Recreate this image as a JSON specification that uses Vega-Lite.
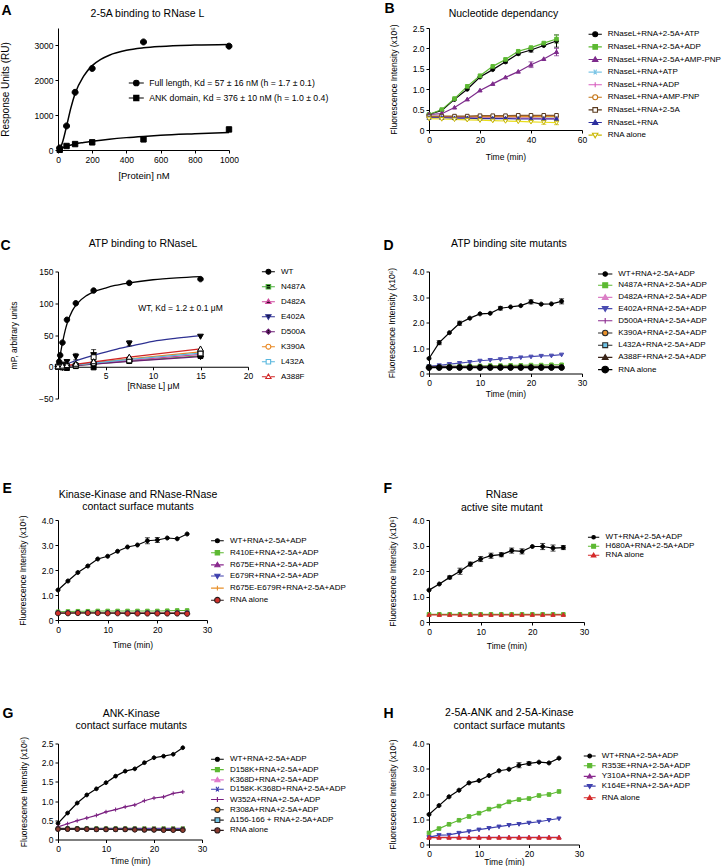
{
"$schema":"https://vega.github.io/schema/vega-lite/v6.json",
"background":"white",
"padding":{"left":0,"top":1,"right":0,"bottom":0},
"config":{
 "font":"Liberation Sans",
 "view":{"stroke":null},
 "axis":{"grid":false,"domainColor":"#000","domainWidth":1,"tickColor":"#000","tickWidth":1,"tickSize":3,"labelColor":"#000","labelFontSize":8.5,"labelPadding":2,"labelFlush":false,"labelOverlap":false,"titleColor":"#000","titleFontSize":8.5,"titleFontWeight":"normal","labelFont":"Liberation Sans","titleFont":"Liberation Sans"},
 "legend":{"labelFontSize":8,"labelColor":"#000","labelFont":"Liberation Sans","symbolOpacity":1,"labelOffset":7.5,"symbolStrokeWidth":1.1,"labelLimit":400}
},
"columns":2,
"bounds":"flush",
"align":"each",
"spacing":{"row":121.5,"column":181},
"datasets":{
"A_pts":[
{"s":"Full length, Kd = 57 ± 16 nM (h = 1.7 ± 0.1)","x":10,"y":60},
{"s":"Full length, Kd = 57 ± 16 nM (h = 1.7 ± 0.1)","x":50,"y":690},
{"s":"Full length, Kd = 57 ± 16 nM (h = 1.7 ± 0.1)","x":100,"y":1655},
{"s":"Full length, Kd = 57 ± 16 nM (h = 1.7 ± 0.1)","x":200,"y":2340},
{"s":"Full length, Kd = 57 ± 16 nM (h = 1.7 ± 0.1)","x":500,"y":3100},
{"s":"Full length, Kd = 57 ± 16 nM (h = 1.7 ± 0.1)","x":1000,"y":2980},
{"s":"ANK domain, Kd = 376 ± 10 nM (h = 1.0 ± 0.4)","x":10,"y":5},
{"s":"ANK domain, Kd = 376 ± 10 nM (h = 1.0 ± 0.4)","x":50,"y":115},
{"s":"ANK domain, Kd = 376 ± 10 nM (h = 1.0 ± 0.4)","x":100,"y":170},
{"s":"ANK domain, Kd = 376 ± 10 nM (h = 1.0 ± 0.4)","x":200,"y":220},
{"s":"ANK domain, Kd = 376 ± 10 nM (h = 1.0 ± 0.4)","x":500,"y":305},
{"s":"ANK domain, Kd = 376 ± 10 nM (h = 1.0 ± 0.4)","x":1000,"y":590}
],
"A_fit":[
{"s":"Full length, Kd = 57 ± 16 nM (h = 1.7 ± 0.1)","x":0,"y":0},
{"s":"Full length, Kd = 57 ± 16 nM (h = 1.7 ± 0.1)","x":10,"y":30},
{"s":"Full length, Kd = 57 ± 16 nM (h = 1.7 ± 0.1)","x":25,"y":200},
{"s":"Full length, Kd = 57 ± 16 nM (h = 1.7 ± 0.1)","x":50,"y":680},
{"s":"Full length, Kd = 57 ± 16 nM (h = 1.7 ± 0.1)","x":75,"y":1200},
{"s":"Full length, Kd = 57 ± 16 nM (h = 1.7 ± 0.1)","x":100,"y":1620},
{"s":"Full length, Kd = 57 ± 16 nM (h = 1.7 ± 0.1)","x":150,"y":2120},
{"s":"Full length, Kd = 57 ± 16 nM (h = 1.7 ± 0.1)","x":200,"y":2420},
{"s":"Full length, Kd = 57 ± 16 nM (h = 1.7 ± 0.1)","x":250,"y":2600},
{"s":"Full length, Kd = 57 ± 16 nM (h = 1.7 ± 0.1)","x":300,"y":2720},
{"s":"Full length, Kd = 57 ± 16 nM (h = 1.7 ± 0.1)","x":400,"y":2860},
{"s":"Full length, Kd = 57 ± 16 nM (h = 1.7 ± 0.1)","x":500,"y":2930},
{"s":"Full length, Kd = 57 ± 16 nM (h = 1.7 ± 0.1)","x":600,"y":2970},
{"s":"Full length, Kd = 57 ± 16 nM (h = 1.7 ± 0.1)","x":800,"y":3010},
{"s":"Full length, Kd = 57 ± 16 nM (h = 1.7 ± 0.1)","x":1000,"y":3030},
{"s":"ANK domain, Kd = 376 ± 10 nM (h = 1.0 ± 0.4)","x":0,"y":0},
{"s":"ANK domain, Kd = 376 ± 10 nM (h = 1.0 ± 0.4)","x":25,"y":60},
{"s":"ANK domain, Kd = 376 ± 10 nM (h = 1.0 ± 0.4)","x":50,"y":110},
{"s":"ANK domain, Kd = 376 ± 10 nM (h = 1.0 ± 0.4)","x":100,"y":175},
{"s":"ANK domain, Kd = 376 ± 10 nM (h = 1.0 ± 0.4)","x":150,"y":215},
{"s":"ANK domain, Kd = 376 ± 10 nM (h = 1.0 ± 0.4)","x":200,"y":250},
{"s":"ANK domain, Kd = 376 ± 10 nM (h = 1.0 ± 0.4)","x":300,"y":310},
{"s":"ANK domain, Kd = 376 ± 10 nM (h = 1.0 ± 0.4)","x":400,"y":355},
{"s":"ANK domain, Kd = 376 ± 10 nM (h = 1.0 ± 0.4)","x":500,"y":390},
{"s":"ANK domain, Kd = 376 ± 10 nM (h = 1.0 ± 0.4)","x":600,"y":420},
{"s":"ANK domain, Kd = 376 ± 10 nM (h = 1.0 ± 0.4)","x":800,"y":465},
{"s":"ANK domain, Kd = 376 ± 10 nM (h = 1.0 ± 0.4)","x":1000,"y":505}
],
"B":[
{"s":"RNaseL+RNA+2-5A+ATP","x":0,"y":0.38},{"s":"RNaseL+RNA+2-5A+ATP","x":5,"y":0.48},{"s":"RNaseL+RNA+2-5A+ATP","x":10,"y":0.75},{"s":"RNaseL+RNA+2-5A+ATP","x":15,"y":1.0},{"s":"RNaseL+RNA+2-5A+ATP","x":20,"y":1.3},{"s":"RNaseL+RNA+2-5A+ATP","x":25,"y":1.48},{"s":"RNaseL+RNA+2-5A+ATP","x":30,"y":1.67,"e":0.03},{"s":"RNaseL+RNA+2-5A+ATP","x":35,"y":1.87,"e":0.03},{"s":"RNaseL+RNA+2-5A+ATP","x":40,"y":1.96,"e":0.05},{"s":"RNaseL+RNA+2-5A+ATP","x":45,"y":2.07},{"s":"RNaseL+RNA+2-5A+ATP","x":50,"y":2.18,"e":0.15},
{"s":"RNaseL+RNA+2-5A+ADP","x":0,"y":0.38},{"s":"RNaseL+RNA+2-5A+ADP","x":5,"y":0.5},{"s":"RNaseL+RNA+2-5A+ADP","x":10,"y":0.77},{"s":"RNaseL+RNA+2-5A+ADP","x":15,"y":1.07},{"s":"RNaseL+RNA+2-5A+ADP","x":20,"y":1.33},{"s":"RNaseL+RNA+2-5A+ADP","x":25,"y":1.56},{"s":"RNaseL+RNA+2-5A+ADP","x":30,"y":1.73},{"s":"RNaseL+RNA+2-5A+ADP","x":35,"y":1.93},{"s":"RNaseL+RNA+2-5A+ADP","x":40,"y":2.02},{"s":"RNaseL+RNA+2-5A+ADP","x":45,"y":2.13},{"s":"RNaseL+RNA+2-5A+ADP","x":50,"y":2.23,"e":0.1},
{"s":"RNaseL+RNA+2-5A+AMP-PNP","x":0,"y":0.38},{"s":"RNaseL+RNA+2-5A+AMP-PNP","x":5,"y":0.4},{"s":"RNaseL+RNA+2-5A+AMP-PNP","x":10,"y":0.55},{"s":"RNaseL+RNA+2-5A+AMP-PNP","x":15,"y":0.75},{"s":"RNaseL+RNA+2-5A+AMP-PNP","x":20,"y":0.97},{"s":"RNaseL+RNA+2-5A+AMP-PNP","x":25,"y":1.13},{"s":"RNaseL+RNA+2-5A+AMP-PNP","x":30,"y":1.29},{"s":"RNaseL+RNA+2-5A+AMP-PNP","x":35,"y":1.43},{"s":"RNaseL+RNA+2-5A+AMP-PNP","x":40,"y":1.6,"e":0.07},{"s":"RNaseL+RNA+2-5A+AMP-PNP","x":45,"y":1.74},{"s":"RNaseL+RNA+2-5A+AMP-PNP","x":50,"y":1.91,"e":0.09},
{"s":"RNaseL+RNA+ATP","x":0,"y":0.31},{"s":"RNaseL+RNA+ATP","x":5,"y":0.31},{"s":"RNaseL+RNA+ATP","x":10,"y":0.3},{"s":"RNaseL+RNA+ATP","x":15,"y":0.3},{"s":"RNaseL+RNA+ATP","x":20,"y":0.3},{"s":"RNaseL+RNA+ATP","x":25,"y":0.3},{"s":"RNaseL+RNA+ATP","x":30,"y":0.3},{"s":"RNaseL+RNA+ATP","x":35,"y":0.29},{"s":"RNaseL+RNA+ATP","x":40,"y":0.29},{"s":"RNaseL+RNA+ATP","x":45,"y":0.29},{"s":"RNaseL+RNA+ATP","x":50,"y":0.29},
{"s":"RNaseL+RNA+ADP","x":0,"y":0.32},{"s":"RNaseL+RNA+ADP","x":5,"y":0.31},{"s":"RNaseL+RNA+ADP","x":10,"y":0.31},{"s":"RNaseL+RNA+ADP","x":15,"y":0.3},{"s":"RNaseL+RNA+ADP","x":20,"y":0.3},{"s":"RNaseL+RNA+ADP","x":25,"y":0.3},{"s":"RNaseL+RNA+ADP","x":30,"y":0.29},{"s":"RNaseL+RNA+ADP","x":35,"y":0.29},{"s":"RNaseL+RNA+ADP","x":40,"y":0.29},{"s":"RNaseL+RNA+ADP","x":45,"y":0.28},{"s":"RNaseL+RNA+ADP","x":50,"y":0.28},
{"s":"RNaseL+RNA+AMP-PNP","x":0,"y":0.33},{"s":"RNaseL+RNA+AMP-PNP","x":5,"y":0.33},{"s":"RNaseL+RNA+AMP-PNP","x":10,"y":0.33},{"s":"RNaseL+RNA+AMP-PNP","x":15,"y":0.33},{"s":"RNaseL+RNA+AMP-PNP","x":20,"y":0.33},{"s":"RNaseL+RNA+AMP-PNP","x":25,"y":0.33},{"s":"RNaseL+RNA+AMP-PNP","x":30,"y":0.33},{"s":"RNaseL+RNA+AMP-PNP","x":35,"y":0.33},{"s":"RNaseL+RNA+AMP-PNP","x":40,"y":0.33},{"s":"RNaseL+RNA+AMP-PNP","x":45,"y":0.33},{"s":"RNaseL+RNA+AMP-PNP","x":50,"y":0.33},
{"s":"RNaseL+RNA+2-5A","x":0,"y":0.34},{"s":"RNaseL+RNA+2-5A","x":5,"y":0.34},{"s":"RNaseL+RNA+2-5A","x":10,"y":0.34},{"s":"RNaseL+RNA+2-5A","x":15,"y":0.34},{"s":"RNaseL+RNA+2-5A","x":20,"y":0.35},{"s":"RNaseL+RNA+2-5A","x":25,"y":0.35},{"s":"RNaseL+RNA+2-5A","x":30,"y":0.35},{"s":"RNaseL+RNA+2-5A","x":35,"y":0.36},{"s":"RNaseL+RNA+2-5A","x":40,"y":0.36},{"s":"RNaseL+RNA+2-5A","x":45,"y":0.36},{"s":"RNaseL+RNA+2-5A","x":50,"y":0.36},
{"s":"RNaseL+RNA","x":0,"y":0.3},{"s":"RNaseL+RNA","x":5,"y":0.3},{"s":"RNaseL+RNA","x":10,"y":0.29},{"s":"RNaseL+RNA","x":15,"y":0.29},{"s":"RNaseL+RNA","x":20,"y":0.28},{"s":"RNaseL+RNA","x":25,"y":0.28},{"s":"RNaseL+RNA","x":30,"y":0.28},{"s":"RNaseL+RNA","x":35,"y":0.27},{"s":"RNaseL+RNA","x":40,"y":0.27},{"s":"RNaseL+RNA","x":45,"y":0.27},{"s":"RNaseL+RNA","x":50,"y":0.27},
{"s":"RNA alone","x":0,"y":0.28},{"s":"RNA alone","x":5,"y":0.27},{"s":"RNA alone","x":10,"y":0.26},{"s":"RNA alone","x":15,"y":0.25},{"s":"RNA alone","x":20,"y":0.24},{"s":"RNA alone","x":25,"y":0.23},{"s":"RNA alone","x":30,"y":0.22},{"s":"RNA alone","x":35,"y":0.21},{"s":"RNA alone","x":40,"y":0.2},{"s":"RNA alone","x":45,"y":0.19,"e":0.05},{"s":"RNA alone","x":50,"y":0.18,"e":0.05}
],
"C_pts":[
{"s":"WT","x":0,"y":0},{"s":"WT","x":0.12,"y":8},{"s":"WT","x":0.23,"y":18},{"s":"WT","x":0.47,"y":38},{"s":"WT","x":0.94,"y":74},{"s":"WT","x":1.875,"y":100},{"s":"WT","x":3.75,"y":120},{"s":"WT","x":7.5,"y":132},{"s":"WT","x":15,"y":138},
{"s":"N487A","x":0,"y":0},{"s":"N487A","x":0.47,"y":-1},{"s":"N487A","x":0.94,"y":-2},{"s":"N487A","x":1.875,"y":1},{"s":"N487A","x":3.75,"y":-1},{"s":"N487A","x":7.5,"y":9},{"s":"N487A","x":15,"y":17},
{"s":"D482A","x":0,"y":0},{"s":"D482A","x":0.47,"y":1},{"s":"D482A","x":0.94,"y":2},{"s":"D482A","x":1.875,"y":3},{"s":"D482A","x":3.75,"y":6},{"s":"D482A","x":7.5,"y":11},{"s":"D482A","x":15,"y":19},
{"s":"E402A","x":0,"y":0},{"s":"E402A","x":0.47,"y":4},{"s":"E402A","x":0.94,"y":8,"e":3},{"s":"E402A","x":1.875,"y":16,"e":5},{"s":"E402A","x":3.75,"y":19,"e":8},{"s":"E402A","x":7.5,"y":37,"e":4},{"s":"E402A","x":15,"y":48},
{"s":"D500A","x":0,"y":0},{"s":"D500A","x":0.47,"y":-1},{"s":"D500A","x":0.94,"y":0},{"s":"D500A","x":1.875,"y":2},{"s":"D500A","x":3.75,"y":4},{"s":"D500A","x":7.5,"y":9},{"s":"D500A","x":15,"y":16},
{"s":"K390A","x":0,"y":1},{"s":"K390A","x":0.47,"y":1},{"s":"K390A","x":0.94,"y":1},{"s":"K390A","x":1.875,"y":3},{"s":"K390A","x":3.75,"y":6},{"s":"K390A","x":7.5,"y":12},{"s":"K390A","x":15,"y":23},
{"s":"L432A","x":0,"y":0},{"s":"L432A","x":0.47,"y":0},{"s":"L432A","x":0.94,"y":1},{"s":"L432A","x":1.875,"y":2},{"s":"L432A","x":3.75,"y":15,"e":6},{"s":"L432A","x":7.5,"y":10},{"s":"L432A","x":15,"y":21},
{"s":"A388F","x":0,"y":0},{"s":"A388F","x":0.47,"y":1},{"s":"A388F","x":0.94,"y":2},{"s":"A388F","x":1.875,"y":4},{"s":"A388F","x":3.75,"y":8},{"s":"A388F","x":7.5,"y":15},{"s":"A388F","x":15,"y":28}
],
"C_fit":[
{"s":"WT","x":0,"y":0},{"s":"WT","x":0.25,"y":20},{"s":"WT","x":0.5,"y":40},{"s":"WT","x":0.75,"y":57},{"s":"WT","x":1,"y":70},{"s":"WT","x":1.5,"y":88},{"s":"WT","x":2,"y":99},{"s":"WT","x":3,"y":112},{"s":"WT","x":3.75,"y":118},{"s":"WT","x":5,"y":124},{"s":"WT","x":6,"y":128},{"s":"WT","x":7.5,"y":132},{"s":"WT","x":10,"y":137},{"s":"WT","x":12.5,"y":140},{"s":"WT","x":15,"y":142},
{"s":"E402A","x":0,"y":0},{"s":"E402A","x":1,"y":5},{"s":"E402A","x":2,"y":10},{"s":"E402A","x":4,"y":19},{"s":"E402A","x":6,"y":27},{"s":"E402A","x":7.5,"y":32},{"s":"E402A","x":10,"y":40},{"s":"E402A","x":12.5,"y":45},{"s":"E402A","x":15,"y":49},
{"s":"N487A","x":0,"y":0},{"s":"N487A","x":7.5,"y":9},{"s":"N487A","x":15,"y":17},
{"s":"D482A","x":0,"y":0},{"s":"D482A","x":7.5,"y":10},{"s":"D482A","x":15,"y":19.5},
{"s":"D500A","x":0,"y":0},{"s":"D500A","x":7.5,"y":8.5},{"s":"D500A","x":15,"y":16},
{"s":"K390A","x":0,"y":0},{"s":"K390A","x":7.5,"y":12.5},{"s":"K390A","x":15,"y":23.5},
{"s":"L432A","x":0,"y":0},{"s":"L432A","x":7.5,"y":11.5},{"s":"L432A","x":15,"y":21.5},
{"s":"A388F","x":0,"y":0},{"s":"A388F","x":7.5,"y":15},{"s":"A388F","x":15,"y":28}
],
"C_note":[{"x":12.9,"y":93,"t":"WT, Kd = 1.2 ± 0.1 μM"}],
"D":[
{"s":"WT+RNA+2-5A+ADP","x":0,"y":0.59},{"s":"WT+RNA+2-5A+ADP","x":2,"y":1.21,"e":0.08},{"s":"WT+RNA+2-5A+ADP","x":4,"y":1.6},{"s":"WT+RNA+2-5A+ADP","x":6,"y":1.97,"e":0.08},{"s":"WT+RNA+2-5A+ADP","x":8,"y":2.17},{"s":"WT+RNA+2-5A+ADP","x":10,"y":2.34},{"s":"WT+RNA+2-5A+ADP","x":12,"y":2.36},{"s":"WT+RNA+2-5A+ADP","x":14,"y":2.56,"e":0.07},{"s":"WT+RNA+2-5A+ADP","x":16,"y":2.61},{"s":"WT+RNA+2-5A+ADP","x":18,"y":2.66},{"s":"WT+RNA+2-5A+ADP","x":20,"y":2.81,"e":0.08},{"s":"WT+RNA+2-5A+ADP","x":22,"y":2.72},{"s":"WT+RNA+2-5A+ADP","x":24,"y":2.73},{"s":"WT+RNA+2-5A+ADP","x":26,"y":2.83,"e":0.1},
{"s":"N487A+RNA+2-5A+ADP","x":0,"y":0.28},{"s":"N487A+RNA+2-5A+ADP","x":2,"y":0.28},{"s":"N487A+RNA+2-5A+ADP","x":4,"y":0.29},{"s":"N487A+RNA+2-5A+ADP","x":6,"y":0.29},{"s":"N487A+RNA+2-5A+ADP","x":8,"y":0.3},{"s":"N487A+RNA+2-5A+ADP","x":10,"y":0.3},{"s":"N487A+RNA+2-5A+ADP","x":12,"y":0.31},{"s":"N487A+RNA+2-5A+ADP","x":14,"y":0.31},{"s":"N487A+RNA+2-5A+ADP","x":16,"y":0.32},{"s":"N487A+RNA+2-5A+ADP","x":18,"y":0.32},{"s":"N487A+RNA+2-5A+ADP","x":20,"y":0.33},{"s":"N487A+RNA+2-5A+ADP","x":22,"y":0.33},{"s":"N487A+RNA+2-5A+ADP","x":24,"y":0.34},{"s":"N487A+RNA+2-5A+ADP","x":26,"y":0.34},
{"s":"D482A+RNA+2-5A+ADP","x":0,"y":0.28},{"s":"D482A+RNA+2-5A+ADP","x":2,"y":0.28},{"s":"D482A+RNA+2-5A+ADP","x":4,"y":0.28},{"s":"D482A+RNA+2-5A+ADP","x":6,"y":0.28},{"s":"D482A+RNA+2-5A+ADP","x":8,"y":0.28},{"s":"D482A+RNA+2-5A+ADP","x":10,"y":0.28},{"s":"D482A+RNA+2-5A+ADP","x":12,"y":0.28},{"s":"D482A+RNA+2-5A+ADP","x":14,"y":0.28},{"s":"D482A+RNA+2-5A+ADP","x":16,"y":0.28},{"s":"D482A+RNA+2-5A+ADP","x":18,"y":0.28},{"s":"D482A+RNA+2-5A+ADP","x":20,"y":0.28},{"s":"D482A+RNA+2-5A+ADP","x":22,"y":0.28},{"s":"D482A+RNA+2-5A+ADP","x":24,"y":0.28},{"s":"D482A+RNA+2-5A+ADP","x":26,"y":0.28},
{"s":"E402A+RNA+2-5A+ADP","x":0,"y":0.28},{"s":"E402A+RNA+2-5A+ADP","x":2,"y":0.32},{"s":"E402A+RNA+2-5A+ADP","x":4,"y":0.37},{"s":"E402A+RNA+2-5A+ADP","x":6,"y":0.41},{"s":"E402A+RNA+2-5A+ADP","x":8,"y":0.45},{"s":"E402A+RNA+2-5A+ADP","x":10,"y":0.5},{"s":"E402A+RNA+2-5A+ADP","x":12,"y":0.53},{"s":"E402A+RNA+2-5A+ADP","x":14,"y":0.56},{"s":"E402A+RNA+2-5A+ADP","x":16,"y":0.6},{"s":"E402A+RNA+2-5A+ADP","x":18,"y":0.63},{"s":"E402A+RNA+2-5A+ADP","x":20,"y":0.66},{"s":"E402A+RNA+2-5A+ADP","x":22,"y":0.69},{"s":"E402A+RNA+2-5A+ADP","x":24,"y":0.7},{"s":"E402A+RNA+2-5A+ADP","x":26,"y":0.74},
{"s":"D500A+RNA+2-5A+ADP","x":0,"y":0.27},{"s":"D500A+RNA+2-5A+ADP","x":2,"y":0.27},{"s":"D500A+RNA+2-5A+ADP","x":4,"y":0.27},{"s":"D500A+RNA+2-5A+ADP","x":6,"y":0.27},{"s":"D500A+RNA+2-5A+ADP","x":8,"y":0.27},{"s":"D500A+RNA+2-5A+ADP","x":10,"y":0.27},{"s":"D500A+RNA+2-5A+ADP","x":12,"y":0.27},{"s":"D500A+RNA+2-5A+ADP","x":14,"y":0.27},{"s":"D500A+RNA+2-5A+ADP","x":16,"y":0.27},{"s":"D500A+RNA+2-5A+ADP","x":18,"y":0.27},{"s":"D500A+RNA+2-5A+ADP","x":20,"y":0.27},{"s":"D500A+RNA+2-5A+ADP","x":22,"y":0.27},{"s":"D500A+RNA+2-5A+ADP","x":24,"y":0.27},{"s":"D500A+RNA+2-5A+ADP","x":26,"y":0.27},
{"s":"K390A+RNA+2-5A+ADP","x":0,"y":0.26},{"s":"K390A+RNA+2-5A+ADP","x":2,"y":0.26},{"s":"K390A+RNA+2-5A+ADP","x":4,"y":0.26},{"s":"K390A+RNA+2-5A+ADP","x":6,"y":0.26},{"s":"K390A+RNA+2-5A+ADP","x":8,"y":0.26},{"s":"K390A+RNA+2-5A+ADP","x":10,"y":0.26},{"s":"K390A+RNA+2-5A+ADP","x":12,"y":0.26},{"s":"K390A+RNA+2-5A+ADP","x":14,"y":0.26},{"s":"K390A+RNA+2-5A+ADP","x":16,"y":0.26},{"s":"K390A+RNA+2-5A+ADP","x":18,"y":0.26},{"s":"K390A+RNA+2-5A+ADP","x":20,"y":0.26},{"s":"K390A+RNA+2-5A+ADP","x":22,"y":0.26},{"s":"K390A+RNA+2-5A+ADP","x":24,"y":0.26},{"s":"K390A+RNA+2-5A+ADP","x":26,"y":0.26},
{"s":"L432A+RNA+2-5A+ADP","x":0,"y":0.25},{"s":"L432A+RNA+2-5A+ADP","x":2,"y":0.25},{"s":"L432A+RNA+2-5A+ADP","x":4,"y":0.25},{"s":"L432A+RNA+2-5A+ADP","x":6,"y":0.25},{"s":"L432A+RNA+2-5A+ADP","x":8,"y":0.25},{"s":"L432A+RNA+2-5A+ADP","x":10,"y":0.25},{"s":"L432A+RNA+2-5A+ADP","x":12,"y":0.25},{"s":"L432A+RNA+2-5A+ADP","x":14,"y":0.25},{"s":"L432A+RNA+2-5A+ADP","x":16,"y":0.25},{"s":"L432A+RNA+2-5A+ADP","x":18,"y":0.25},{"s":"L432A+RNA+2-5A+ADP","x":20,"y":0.25},{"s":"L432A+RNA+2-5A+ADP","x":22,"y":0.25},{"s":"L432A+RNA+2-5A+ADP","x":24,"y":0.25},{"s":"L432A+RNA+2-5A+ADP","x":26,"y":0.25},
{"s":"A388F+RNA+2-5A+ADP","x":0,"y":0.24},{"s":"A388F+RNA+2-5A+ADP","x":2,"y":0.24},{"s":"A388F+RNA+2-5A+ADP","x":4,"y":0.24},{"s":"A388F+RNA+2-5A+ADP","x":6,"y":0.24},{"s":"A388F+RNA+2-5A+ADP","x":8,"y":0.24},{"s":"A388F+RNA+2-5A+ADP","x":10,"y":0.24},{"s":"A388F+RNA+2-5A+ADP","x":12,"y":0.24},{"s":"A388F+RNA+2-5A+ADP","x":14,"y":0.24},{"s":"A388F+RNA+2-5A+ADP","x":16,"y":0.24},{"s":"A388F+RNA+2-5A+ADP","x":18,"y":0.24},{"s":"A388F+RNA+2-5A+ADP","x":20,"y":0.24},{"s":"A388F+RNA+2-5A+ADP","x":22,"y":0.24},{"s":"A388F+RNA+2-5A+ADP","x":24,"y":0.24},{"s":"A388F+RNA+2-5A+ADP","x":26,"y":0.24},
{"s":"RNA alone","x":0,"y":0.23},{"s":"RNA alone","x":2,"y":0.23},{"s":"RNA alone","x":4,"y":0.23},{"s":"RNA alone","x":6,"y":0.23},{"s":"RNA alone","x":8,"y":0.23},{"s":"RNA alone","x":10,"y":0.23},{"s":"RNA alone","x":12,"y":0.23},{"s":"RNA alone","x":14,"y":0.23},{"s":"RNA alone","x":16,"y":0.23},{"s":"RNA alone","x":18,"y":0.23},{"s":"RNA alone","x":20,"y":0.23},{"s":"RNA alone","x":22,"y":0.23},{"s":"RNA alone","x":24,"y":0.23},{"s":"RNA alone","x":26,"y":0.23}
],
"E":[
{"s":"WT+RNA+2-5A+ADP","x":0,"y":1.2},{"s":"WT+RNA+2-5A+ADP","x":2,"y":1.56},{"s":"WT+RNA+2-5A+ADP","x":4,"y":1.9},{"s":"WT+RNA+2-5A+ADP","x":6,"y":2.16},{"s":"WT+RNA+2-5A+ADP","x":8,"y":2.44},{"s":"WT+RNA+2-5A+ADP","x":10,"y":2.55},{"s":"WT+RNA+2-5A+ADP","x":12,"y":2.75},{"s":"WT+RNA+2-5A+ADP","x":14,"y":2.92},{"s":"WT+RNA+2-5A+ADP","x":16,"y":3.0},{"s":"WT+RNA+2-5A+ADP","x":18,"y":3.17,"e":0.12},{"s":"WT+RNA+2-5A+ADP","x":20,"y":3.2,"e":0.1},{"s":"WT+RNA+2-5A+ADP","x":22,"y":3.28},{"s":"WT+RNA+2-5A+ADP","x":24,"y":3.25},{"s":"WT+RNA+2-5A+ADP","x":26,"y":3.44},
{"s":"R410E+RNA+2-5A+ADP","x":0,"y":0.33},{"s":"R410E+RNA+2-5A+ADP","x":2,"y":0.34},{"s":"R410E+RNA+2-5A+ADP","x":4,"y":0.35},{"s":"R410E+RNA+2-5A+ADP","x":6,"y":0.35},{"s":"R410E+RNA+2-5A+ADP","x":8,"y":0.36},{"s":"R410E+RNA+2-5A+ADP","x":10,"y":0.36},{"s":"R410E+RNA+2-5A+ADP","x":12,"y":0.36},{"s":"R410E+RNA+2-5A+ADP","x":14,"y":0.36},{"s":"R410E+RNA+2-5A+ADP","x":16,"y":0.36},{"s":"R410E+RNA+2-5A+ADP","x":18,"y":0.36},{"s":"R410E+RNA+2-5A+ADP","x":20,"y":0.36},{"s":"R410E+RNA+2-5A+ADP","x":22,"y":0.37},{"s":"R410E+RNA+2-5A+ADP","x":24,"y":0.38},{"s":"R410E+RNA+2-5A+ADP","x":26,"y":0.38},
{"s":"R675E+RNA+2-5A+ADP","x":0,"y":0.3},{"s":"R675E+RNA+2-5A+ADP","x":2,"y":0.3},{"s":"R675E+RNA+2-5A+ADP","x":4,"y":0.3},{"s":"R675E+RNA+2-5A+ADP","x":6,"y":0.3},{"s":"R675E+RNA+2-5A+ADP","x":8,"y":0.3},{"s":"R675E+RNA+2-5A+ADP","x":10,"y":0.3},{"s":"R675E+RNA+2-5A+ADP","x":12,"y":0.3},{"s":"R675E+RNA+2-5A+ADP","x":14,"y":0.3},{"s":"R675E+RNA+2-5A+ADP","x":16,"y":0.3},{"s":"R675E+RNA+2-5A+ADP","x":18,"y":0.3},{"s":"R675E+RNA+2-5A+ADP","x":20,"y":0.3},{"s":"R675E+RNA+2-5A+ADP","x":22,"y":0.3},{"s":"R675E+RNA+2-5A+ADP","x":24,"y":0.3},{"s":"R675E+RNA+2-5A+ADP","x":26,"y":0.3},
{"s":"E679R+RNA+2-5A+ADP","x":0,"y":0.29},{"s":"E679R+RNA+2-5A+ADP","x":2,"y":0.29},{"s":"E679R+RNA+2-5A+ADP","x":4,"y":0.29},{"s":"E679R+RNA+2-5A+ADP","x":6,"y":0.29},{"s":"E679R+RNA+2-5A+ADP","x":8,"y":0.29},{"s":"E679R+RNA+2-5A+ADP","x":10,"y":0.29},{"s":"E679R+RNA+2-5A+ADP","x":12,"y":0.29},{"s":"E679R+RNA+2-5A+ADP","x":14,"y":0.29},{"s":"E679R+RNA+2-5A+ADP","x":16,"y":0.29},{"s":"E679R+RNA+2-5A+ADP","x":18,"y":0.29},{"s":"E679R+RNA+2-5A+ADP","x":20,"y":0.29},{"s":"E679R+RNA+2-5A+ADP","x":22,"y":0.29},{"s":"E679R+RNA+2-5A+ADP","x":24,"y":0.29},{"s":"E679R+RNA+2-5A+ADP","x":26,"y":0.29},
{"s":"R675E-E679R+RNA+2-5A+ADP","x":0,"y":0.28},{"s":"R675E-E679R+RNA+2-5A+ADP","x":2,"y":0.28},{"s":"R675E-E679R+RNA+2-5A+ADP","x":4,"y":0.28},{"s":"R675E-E679R+RNA+2-5A+ADP","x":6,"y":0.28},{"s":"R675E-E679R+RNA+2-5A+ADP","x":8,"y":0.28},{"s":"R675E-E679R+RNA+2-5A+ADP","x":10,"y":0.28},{"s":"R675E-E679R+RNA+2-5A+ADP","x":12,"y":0.28},{"s":"R675E-E679R+RNA+2-5A+ADP","x":14,"y":0.28},{"s":"R675E-E679R+RNA+2-5A+ADP","x":16,"y":0.28},{"s":"R675E-E679R+RNA+2-5A+ADP","x":18,"y":0.28},{"s":"R675E-E679R+RNA+2-5A+ADP","x":20,"y":0.28},{"s":"R675E-E679R+RNA+2-5A+ADP","x":22,"y":0.28},{"s":"R675E-E679R+RNA+2-5A+ADP","x":24,"y":0.28},{"s":"R675E-E679R+RNA+2-5A+ADP","x":26,"y":0.28},
{"s":"RNA alone","x":0,"y":0.27},{"s":"RNA alone","x":2,"y":0.27},{"s":"RNA alone","x":4,"y":0.28},{"s":"RNA alone","x":6,"y":0.28},{"s":"RNA alone","x":8,"y":0.28},{"s":"RNA alone","x":10,"y":0.27},{"s":"RNA alone","x":12,"y":0.27},{"s":"RNA alone","x":14,"y":0.26},{"s":"RNA alone","x":16,"y":0.26},{"s":"RNA alone","x":18,"y":0.26},{"s":"RNA alone","x":20,"y":0.26},{"s":"RNA alone","x":22,"y":0.26},{"s":"RNA alone","x":24,"y":0.26},{"s":"RNA alone","x":26,"y":0.25}
],
"F":[
{"s":"WT+RNA+2-5A+ADP","x":0,"y":1.25},{"s":"WT+RNA+2-5A+ADP","x":2,"y":1.49},{"s":"WT+RNA+2-5A+ADP","x":4,"y":1.75,"e":0.06},{"s":"WT+RNA+2-5A+ADP","x":6,"y":1.99,"e":0.12},{"s":"WT+RNA+2-5A+ADP","x":8,"y":2.27,"e":0.08},{"s":"WT+RNA+2-5A+ADP","x":10,"y":2.47,"e":0.1},{"s":"WT+RNA+2-5A+ADP","x":12,"y":2.6,"e":0.1},{"s":"WT+RNA+2-5A+ADP","x":14,"y":2.64,"e":0.08},{"s":"WT+RNA+2-5A+ADP","x":16,"y":2.8,"e":0.1},{"s":"WT+RNA+2-5A+ADP","x":18,"y":2.77,"e":0.1},{"s":"WT+RNA+2-5A+ADP","x":20,"y":2.96},{"s":"WT+RNA+2-5A+ADP","x":22,"y":2.96,"e":0.12},{"s":"WT+RNA+2-5A+ADP","x":24,"y":2.9,"e":0.12},{"s":"WT+RNA+2-5A+ADP","x":26,"y":2.92,"e":0.08},
{"s":"H680A+RNA+2-5A+ADP","x":0,"y":0.3},{"s":"H680A+RNA+2-5A+ADP","x":2,"y":0.3},{"s":"H680A+RNA+2-5A+ADP","x":4,"y":0.3},{"s":"H680A+RNA+2-5A+ADP","x":6,"y":0.3},{"s":"H680A+RNA+2-5A+ADP","x":8,"y":0.3},{"s":"H680A+RNA+2-5A+ADP","x":10,"y":0.3},{"s":"H680A+RNA+2-5A+ADP","x":12,"y":0.3},{"s":"H680A+RNA+2-5A+ADP","x":14,"y":0.3},{"s":"H680A+RNA+2-5A+ADP","x":16,"y":0.3},{"s":"H680A+RNA+2-5A+ADP","x":18,"y":0.3},{"s":"H680A+RNA+2-5A+ADP","x":20,"y":0.3},{"s":"H680A+RNA+2-5A+ADP","x":22,"y":0.3},{"s":"H680A+RNA+2-5A+ADP","x":24,"y":0.3},{"s":"H680A+RNA+2-5A+ADP","x":26,"y":0.3},
{"s":"RNA alone","x":0,"y":0.28},{"s":"RNA alone","x":2,"y":0.28},{"s":"RNA alone","x":4,"y":0.28},{"s":"RNA alone","x":6,"y":0.28},{"s":"RNA alone","x":8,"y":0.28},{"s":"RNA alone","x":10,"y":0.28},{"s":"RNA alone","x":12,"y":0.28},{"s":"RNA alone","x":14,"y":0.28},{"s":"RNA alone","x":16,"y":0.28},{"s":"RNA alone","x":18,"y":0.28},{"s":"RNA alone","x":20,"y":0.28},{"s":"RNA alone","x":22,"y":0.28},{"s":"RNA alone","x":24,"y":0.28},{"s":"RNA alone","x":26,"y":0.28}
],
"G":[
{"s":"WT+RNA+2-5A+ADP","x":0,"y":0.42},{"s":"WT+RNA+2-5A+ADP","x":2,"y":0.69},{"s":"WT+RNA+2-5A+ADP","x":4,"y":0.95},{"s":"WT+RNA+2-5A+ADP","x":6,"y":1.16},{"s":"WT+RNA+2-5A+ADP","x":8,"y":1.32},{"s":"WT+RNA+2-5A+ADP","x":10,"y":1.48},{"s":"WT+RNA+2-5A+ADP","x":12,"y":1.65},{"s":"WT+RNA+2-5A+ADP","x":14,"y":1.78},{"s":"WT+RNA+2-5A+ADP","x":16,"y":1.84},{"s":"WT+RNA+2-5A+ADP","x":18,"y":2.0},{"s":"WT+RNA+2-5A+ADP","x":20,"y":2.13},{"s":"WT+RNA+2-5A+ADP","x":22,"y":2.17},{"s":"WT+RNA+2-5A+ADP","x":24,"y":2.22},{"s":"WT+RNA+2-5A+ADP","x":26,"y":2.39},
{"s":"D158K+RNA+2-5A+ADP","x":0,"y":0.29},{"s":"D158K+RNA+2-5A+ADP","x":2,"y":0.29},{"s":"D158K+RNA+2-5A+ADP","x":4,"y":0.29},{"s":"D158K+RNA+2-5A+ADP","x":6,"y":0.29},{"s":"D158K+RNA+2-5A+ADP","x":8,"y":0.29},{"s":"D158K+RNA+2-5A+ADP","x":10,"y":0.29},{"s":"D158K+RNA+2-5A+ADP","x":12,"y":0.29},{"s":"D158K+RNA+2-5A+ADP","x":14,"y":0.29},{"s":"D158K+RNA+2-5A+ADP","x":16,"y":0.29},{"s":"D158K+RNA+2-5A+ADP","x":18,"y":0.29},{"s":"D158K+RNA+2-5A+ADP","x":20,"y":0.29},{"s":"D158K+RNA+2-5A+ADP","x":22,"y":0.29},{"s":"D158K+RNA+2-5A+ADP","x":24,"y":0.29},{"s":"D158K+RNA+2-5A+ADP","x":26,"y":0.29},
{"s":"K368D+RNA+2-5A+ADP","x":0,"y":0.29},{"s":"K368D+RNA+2-5A+ADP","x":2,"y":0.29},{"s":"K368D+RNA+2-5A+ADP","x":4,"y":0.29},{"s":"K368D+RNA+2-5A+ADP","x":6,"y":0.29},{"s":"K368D+RNA+2-5A+ADP","x":8,"y":0.29},{"s":"K368D+RNA+2-5A+ADP","x":10,"y":0.29},{"s":"K368D+RNA+2-5A+ADP","x":12,"y":0.29},{"s":"K368D+RNA+2-5A+ADP","x":14,"y":0.29},{"s":"K368D+RNA+2-5A+ADP","x":16,"y":0.29},{"s":"K368D+RNA+2-5A+ADP","x":18,"y":0.29},{"s":"K368D+RNA+2-5A+ADP","x":20,"y":0.29},{"s":"K368D+RNA+2-5A+ADP","x":22,"y":0.29},{"s":"K368D+RNA+2-5A+ADP","x":24,"y":0.29},{"s":"K368D+RNA+2-5A+ADP","x":26,"y":0.29},
{"s":"D158K-K368D+RNA+2-5A+ADP","x":0,"y":0.28},{"s":"D158K-K368D+RNA+2-5A+ADP","x":2,"y":0.28},{"s":"D158K-K368D+RNA+2-5A+ADP","x":4,"y":0.28},{"s":"D158K-K368D+RNA+2-5A+ADP","x":6,"y":0.28},{"s":"D158K-K368D+RNA+2-5A+ADP","x":8,"y":0.28},{"s":"D158K-K368D+RNA+2-5A+ADP","x":10,"y":0.28},{"s":"D158K-K368D+RNA+2-5A+ADP","x":12,"y":0.28},{"s":"D158K-K368D+RNA+2-5A+ADP","x":14,"y":0.28},{"s":"D158K-K368D+RNA+2-5A+ADP","x":16,"y":0.28},{"s":"D158K-K368D+RNA+2-5A+ADP","x":18,"y":0.28},{"s":"D158K-K368D+RNA+2-5A+ADP","x":20,"y":0.28},{"s":"D158K-K368D+RNA+2-5A+ADP","x":22,"y":0.28},{"s":"D158K-K368D+RNA+2-5A+ADP","x":24,"y":0.28},{"s":"D158K-K368D+RNA+2-5A+ADP","x":26,"y":0.28},
{"s":"W352A+RNA+2-5A+ADP","x":0,"y":0.33},{"s":"W352A+RNA+2-5A+ADP","x":2,"y":0.41},{"s":"W352A+RNA+2-5A+ADP","x":4,"y":0.49},{"s":"W352A+RNA+2-5A+ADP","x":6,"y":0.56},{"s":"W352A+RNA+2-5A+ADP","x":8,"y":0.63},{"s":"W352A+RNA+2-5A+ADP","x":10,"y":0.72},{"s":"W352A+RNA+2-5A+ADP","x":12,"y":0.78},{"s":"W352A+RNA+2-5A+ADP","x":14,"y":0.85},{"s":"W352A+RNA+2-5A+ADP","x":16,"y":0.9},{"s":"W352A+RNA+2-5A+ADP","x":18,"y":1.01},{"s":"W352A+RNA+2-5A+ADP","x":20,"y":1.08},{"s":"W352A+RNA+2-5A+ADP","x":22,"y":1.11},{"s":"W352A+RNA+2-5A+ADP","x":24,"y":1.2},{"s":"W352A+RNA+2-5A+ADP","x":26,"y":1.24},
{"s":"R308A+RNA+2-5A+ADP","x":0,"y":0.28},{"s":"R308A+RNA+2-5A+ADP","x":2,"y":0.28},{"s":"R308A+RNA+2-5A+ADP","x":4,"y":0.28},{"s":"R308A+RNA+2-5A+ADP","x":6,"y":0.27},{"s":"R308A+RNA+2-5A+ADP","x":8,"y":0.27},{"s":"R308A+RNA+2-5A+ADP","x":10,"y":0.27},{"s":"R308A+RNA+2-5A+ADP","x":12,"y":0.27},{"s":"R308A+RNA+2-5A+ADP","x":14,"y":0.27},{"s":"R308A+RNA+2-5A+ADP","x":16,"y":0.27},{"s":"R308A+RNA+2-5A+ADP","x":18,"y":0.26},{"s":"R308A+RNA+2-5A+ADP","x":20,"y":0.26},{"s":"R308A+RNA+2-5A+ADP","x":22,"y":0.26},{"s":"R308A+RNA+2-5A+ADP","x":24,"y":0.26},{"s":"R308A+RNA+2-5A+ADP","x":26,"y":0.26},
{"s":"Δ156-166 + RNA+2-5A+ADP","x":0,"y":0.27},{"s":"Δ156-166 + RNA+2-5A+ADP","x":2,"y":0.27},{"s":"Δ156-166 + RNA+2-5A+ADP","x":4,"y":0.27},{"s":"Δ156-166 + RNA+2-5A+ADP","x":6,"y":0.27},{"s":"Δ156-166 + RNA+2-5A+ADP","x":8,"y":0.26},{"s":"Δ156-166 + RNA+2-5A+ADP","x":10,"y":0.26},{"s":"Δ156-166 + RNA+2-5A+ADP","x":12,"y":0.26},{"s":"Δ156-166 + RNA+2-5A+ADP","x":14,"y":0.26},{"s":"Δ156-166 + RNA+2-5A+ADP","x":16,"y":0.26},{"s":"Δ156-166 + RNA+2-5A+ADP","x":18,"y":0.25},{"s":"Δ156-166 + RNA+2-5A+ADP","x":20,"y":0.25},{"s":"Δ156-166 + RNA+2-5A+ADP","x":22,"y":0.25},{"s":"Δ156-166 + RNA+2-5A+ADP","x":24,"y":0.25},{"s":"Δ156-166 + RNA+2-5A+ADP","x":26,"y":0.25},
{"s":"RNA alone","x":0,"y":0.27},{"s":"RNA alone","x":2,"y":0.27},{"s":"RNA alone","x":4,"y":0.27},{"s":"RNA alone","x":6,"y":0.27},{"s":"RNA alone","x":8,"y":0.26},{"s":"RNA alone","x":10,"y":0.26},{"s":"RNA alone","x":12,"y":0.26},{"s":"RNA alone","x":14,"y":0.26},{"s":"RNA alone","x":16,"y":0.25},{"s":"RNA alone","x":18,"y":0.25},{"s":"RNA alone","x":20,"y":0.25},{"s":"RNA alone","x":22,"y":0.24},{"s":"RNA alone","x":24,"y":0.24},{"s":"RNA alone","x":26,"y":0.24}
],
"H":[
{"s":"WT+RNA+2-5A+ADP","x":0,"y":1.19},{"s":"WT+RNA+2-5A+ADP","x":2,"y":1.54},{"s":"WT+RNA+2-5A+ADP","x":4,"y":1.89},{"s":"WT+RNA+2-5A+ADP","x":6,"y":2.15},{"s":"WT+RNA+2-5A+ADP","x":8,"y":2.44},{"s":"WT+RNA+2-5A+ADP","x":10,"y":2.53},{"s":"WT+RNA+2-5A+ADP","x":12,"y":2.73},{"s":"WT+RNA+2-5A+ADP","x":14,"y":2.92},{"s":"WT+RNA+2-5A+ADP","x":16,"y":2.98},{"s":"WT+RNA+2-5A+ADP","x":18,"y":3.14,"e":0.1},{"s":"WT+RNA+2-5A+ADP","x":20,"y":3.21,"e":0.07},{"s":"WT+RNA+2-5A+ADP","x":22,"y":3.26},{"s":"WT+RNA+2-5A+ADP","x":24,"y":3.23},{"s":"WT+RNA+2-5A+ADP","x":26,"y":3.42},
{"s":"R353E+RNA+2-5A+ADP","x":0,"y":0.46},{"s":"R353E+RNA+2-5A+ADP","x":2,"y":0.63},{"s":"R353E+RNA+2-5A+ADP","x":4,"y":0.8},{"s":"R353E+RNA+2-5A+ADP","x":6,"y":0.96},{"s":"R353E+RNA+2-5A+ADP","x":8,"y":1.11},{"s":"R353E+RNA+2-5A+ADP","x":10,"y":1.24},{"s":"R353E+RNA+2-5A+ADP","x":12,"y":1.4},{"s":"R353E+RNA+2-5A+ADP","x":14,"y":1.52},{"s":"R353E+RNA+2-5A+ADP","x":16,"y":1.69},{"s":"R353E+RNA+2-5A+ADP","x":18,"y":1.78},{"s":"R353E+RNA+2-5A+ADP","x":20,"y":1.82},{"s":"R353E+RNA+2-5A+ADP","x":22,"y":1.94},{"s":"R353E+RNA+2-5A+ADP","x":24,"y":1.98},{"s":"R353E+RNA+2-5A+ADP","x":26,"y":2.1},
{"s":"Y310A+RNA+2-5A+ADP","x":0,"y":0.28},{"s":"Y310A+RNA+2-5A+ADP","x":2,"y":0.28},{"s":"Y310A+RNA+2-5A+ADP","x":4,"y":0.28},{"s":"Y310A+RNA+2-5A+ADP","x":6,"y":0.28},{"s":"Y310A+RNA+2-5A+ADP","x":8,"y":0.28},{"s":"Y310A+RNA+2-5A+ADP","x":10,"y":0.28},{"s":"Y310A+RNA+2-5A+ADP","x":12,"y":0.28},{"s":"Y310A+RNA+2-5A+ADP","x":14,"y":0.28},{"s":"Y310A+RNA+2-5A+ADP","x":16,"y":0.28},{"s":"Y310A+RNA+2-5A+ADP","x":18,"y":0.28},{"s":"Y310A+RNA+2-5A+ADP","x":20,"y":0.28},{"s":"Y310A+RNA+2-5A+ADP","x":22,"y":0.28},{"s":"Y310A+RNA+2-5A+ADP","x":24,"y":0.28},{"s":"Y310A+RNA+2-5A+ADP","x":26,"y":0.28},
{"s":"K164E+RNA+2-5A+ADP","x":0,"y":0.29},{"s":"K164E+RNA+2-5A+ADP","x":2,"y":0.37},{"s":"K164E+RNA+2-5A+ADP","x":4,"y":0.38},{"s":"K164E+RNA+2-5A+ADP","x":6,"y":0.46},{"s":"K164E+RNA+2-5A+ADP","x":8,"y":0.52},{"s":"K164E+RNA+2-5A+ADP","x":10,"y":0.59},{"s":"K164E+RNA+2-5A+ADP","x":12,"y":0.65},{"s":"K164E+RNA+2-5A+ADP","x":14,"y":0.71},{"s":"K164E+RNA+2-5A+ADP","x":16,"y":0.77},{"s":"K164E+RNA+2-5A+ADP","x":18,"y":0.81},{"s":"K164E+RNA+2-5A+ADP","x":20,"y":0.86},{"s":"K164E+RNA+2-5A+ADP","x":22,"y":0.9},{"s":"K164E+RNA+2-5A+ADP","x":24,"y":0.97},{"s":"K164E+RNA+2-5A+ADP","x":26,"y":1.03},
{"s":"RNA alone","x":0,"y":0.27},{"s":"RNA alone","x":2,"y":0.27},{"s":"RNA alone","x":4,"y":0.27},{"s":"RNA alone","x":6,"y":0.27},{"s":"RNA alone","x":8,"y":0.27},{"s":"RNA alone","x":10,"y":0.27},{"s":"RNA alone","x":12,"y":0.27},{"s":"RNA alone","x":14,"y":0.27},{"s":"RNA alone","x":16,"y":0.27},{"s":"RNA alone","x":18,"y":0.27},{"s":"RNA alone","x":20,"y":0.27},{"s":"RNA alone","x":22,"y":0.27},{"s":"RNA alone","x":24,"y":0.27},{"s":"RNA alone","x":26,"y":0.27}
]
},
"concat":[
{
 "width":171,"height":122,
 "layer":[
  {"data":{"name":"A_fit"},"mark":{"type":"line","strokeWidth":1.5,"interpolate":"monotone"},
   "encoding":{
    "x":{"field":"x","type":"quantitative","scale":{"domain":[0,1000],"nice":false},"axis":{"values":[0,200,400,600,800,1000],"format":"d","title":"[Protein] nM","titleY":25,"titleBaseline":"middle","titleFontSize":9.5}},
    "y":{"field":"y","type":"quantitative","scale":{"domain":[0,3500],"nice":false},"axis":{"values":[0,1000,2000,3000],"format":"d","title":"Response Units (RU)","titleX":-53,"titleAngle":270,"titleAlign":"center","titleBaseline":"middle","titleFontSize":10}},
    "color":{"field":"s","type":"nominal","scale":{"domain":["Full length, Kd = 57 ± 16 nM (h = 1.7 ± 0.1)","ANK domain, Kd = 376 ± 10 nM (h = 1.0 ± 0.4)"],"range":["#000000","#000000"]},"legend":null}}},
  {"data":{"name":"A_pts"},"mark":{"type":"point","filled":true,"size":36,"strokeWidth":1,"opacity":1},
   "encoding":{
    "x":{"field":"x","type":"quantitative","axis":null},"y":{"field":"y","type":"quantitative","axis":null},
    "shape":{"field":"s","type":"nominal","scale":{"domain":["Full length, Kd = 57 ± 16 nM (h = 1.7 ± 0.1)","ANK domain, Kd = 376 ± 10 nM (h = 1.0 ± 0.4)"],"range":["M1,0A1,1 0 1,1 -1,0A1,1 0 1,1 1,0Z","M-0.9,-0.9H0.9V0.9H-0.9Z"]},"legend":null},
    "fill":{"field":"s","type":"nominal","scale":{"domain":["Full length, Kd = 57 ± 16 nM (h = 1.7 ± 0.1)","ANK domain, Kd = 376 ± 10 nM (h = 1.0 ± 0.4)"],"range":["#000000","#000000"]},"legend":null},
    "stroke":{"field":"s","type":"nominal","scale":{"domain":["Full length, Kd = 57 ± 16 nM (h = 1.7 ± 0.1)","ANK domain, Kd = 376 ± 10 nM (h = 1.0 ± 0.4)"],"range":["#000000","#000000"]},"legend":null}}},
  {"data":{"name":"A_pts"},"mark":{"type":"point","filled":true,"opacity":0},
   "encoding":{
    "x":{"field":"x","type":"quantitative","axis":{"orient":"top","title":"2-5A binding to RNase L","labels":false,"ticks":false,"domain":false,"titleX":89,"titleY":-15,"titleAlign":"center","titleBaseline":"middle","titleFontSize":10.5}},
    "y":{"field":"y","type":"quantitative","axis":{"orient":"right","title":"A","labels":false,"ticks":false,"domain":false,"titleAngle":0,"titleX":-228,"titleY":-18,"titleAlign":"left","titleBaseline":"middle","titleFontSize":14,"titleFontWeight":"bold"}},
    "shape":{"field":"s","type":"nominal","scale":{"domain":["Full length, Kd = 57 ± 16 nM (h = 1.7 ± 0.1)","ANK domain, Kd = 376 ± 10 nM (h = 1.0 ± 0.4)"],"range":["M-1.6,0H1.6M0.6,0A0.6,0.6 0 1,1 -0.6,0A0.6,0.6 0 1,1 0.6,0Z","M-1.6,0H1.6M-0.55,-0.55H0.55V0.55H-0.55Z"]},"legend":{"orient":"none","legendX":72.8,"legendY":49.5,"title":null,"symbolSize":88,"rowPadding":4,"labelFontSize":8.7,"labelLimit":400}},
    "fill":{"field":"s","type":"nominal","scale":{"domain":["Full length, Kd = 57 ± 16 nM (h = 1.7 ± 0.1)","ANK domain, Kd = 376 ± 10 nM (h = 1.0 ± 0.4)"],"range":["#000000","#000000"]},"legend":{"orient":"none","legendX":72.8,"legendY":49.5,"title":null,"symbolSize":88,"rowPadding":4,"labelFontSize":8.7,"labelLimit":400}},
    "stroke":{"field":"s","type":"nominal","scale":{"domain":["Full length, Kd = 57 ± 16 nM (h = 1.7 ± 0.1)","ANK domain, Kd = 376 ± 10 nM (h = 1.0 ± 0.4)"],"range":["#000000","#000000"]},"legend":{"orient":"none","legendX":72.8,"legendY":49.5,"title":null,"symbolSize":88,"rowPadding":4,"labelFontSize":8.7,"labelLimit":400}}}}
 ],
 "resolve":{"scale":{"color":"independent","shape":"independent","fill":"independent","stroke":"independent"},"axis":{"x":"independent","y":"independent"}}
},
{
 "width":153,"height":102,"data":{"name":"B"},
 "layer":[
  {"mark":{"type":"line","strokeWidth":1.2},
   "encoding":{
    "x":{"field":"x","type":"quantitative","scale":{"domain":[0,60],"nice":false},"axis":{"values":[0,20,40,60],"title":"Time (min)","titleY":26,"titleBaseline":"middle"}},
    "y":{"field":"y","type":"quantitative","scale":{"domain":[0,2.5],"nice":false},"axis":{"values":[0,0.5,1,1.5,2,2.5],"labelExpr":"datum.value == 0 ? '0' : format(datum.value, '.1f')","title":"Fluorescence Intensity (x10⁶)","titleX":-35.5,"titleAngle":270,"titleAlign":"center","titleBaseline":"middle"}},
    "color":{"field":"s","type":"nominal","scale":{"domain":["RNaseL+RNA+2-5A+ATP","RNaseL+RNA+2-5A+ADP","RNaseL+RNA+2-5A+AMP-PNP","RNaseL+RNA+ATP","RNaseL+RNA+ADP","RNaseL+RNA+AMP-PNP","RNaseL+RNA+2-5A","RNaseL+RNA","RNA alone"],"range":["#000000","#5DB933","#7D2B8B","#7DC6E6","#D75CBE","#E38B25","#8A5B33","#2C2F9E","#E9DD1A"]},"legend":null}}},
  {"transform":[{"filter":"datum.e > 0"}],"mark":{"type":"errorbar","ticks":{"size":5},"thickness":1},
   "encoding":{"x":{"field":"x","type":"quantitative","axis":null},"y":{"field":"y","type":"quantitative","axis":null},"yError":{"field":"e"},
    "color":{"field":"s","type":"nominal","scale":{"domain":["RNaseL+RNA+2-5A+ATP","RNaseL+RNA+2-5A+ADP","RNaseL+RNA+2-5A+AMP-PNP","RNaseL+RNA+ATP","RNaseL+RNA+ADP","RNaseL+RNA+AMP-PNP","RNaseL+RNA+2-5A","RNaseL+RNA","RNA alone"],"range":["#000000","#5DB933","#7D2B8B","#7DC6E6","#D75CBE","#E38B25","#8A5B33","#2C2F9E","#C9B800"]},"legend":null}}},
  {"mark":{"type":"point","filled":true,"size":16,"strokeWidth":1,"opacity":1},
   "encoding":{"x":{"field":"x","type":"quantitative","axis":null},"y":{"field":"y","type":"quantitative","axis":null},
    "shape":{"field":"s","type":"nominal","scale":{"domain":["RNaseL+RNA+2-5A+ATP","RNaseL+RNA+2-5A+ADP","RNaseL+RNA+2-5A+AMP-PNP","RNaseL+RNA+ATP","RNaseL+RNA+ADP","RNaseL+RNA+AMP-PNP","RNaseL+RNA+2-5A","RNaseL+RNA","RNA alone"],"range":["M1,0A1,1 0 1,1 -1,0A1,1 0 1,1 1,0Z","M-0.9,-0.9H0.9V0.9H-0.9Z","M0,-1.1L1.05,0.75L-1.05,0.75Z","M-1.1,0H1.1M-0.55,-0.95L0.55,0.95M0.55,-0.95L-0.55,0.95","M-1.1,0H1.1M0,-1.1V1.1","M1,0A1,1 0 1,1 -1,0A1,1 0 1,1 1,0Z","M-0.9,-0.9H0.9V0.9H-0.9Z","M0,-1.1L1.05,0.75L-1.05,0.75Z","M0,1.1L1.05,-0.75L-1.05,-0.75Z"]},"legend":null},
    "fill":{"field":"s","type":"nominal","scale":{"domain":["RNaseL+RNA+2-5A+ATP","RNaseL+RNA+2-5A+ADP","RNaseL+RNA+2-5A+AMP-PNP","RNaseL+RNA+ATP","RNaseL+RNA+ADP","RNaseL+RNA+AMP-PNP","RNaseL+RNA+2-5A","RNaseL+RNA","RNA alone"],"range":["#000000","#5DB933","#7D2B8B","#7DC6E6","#D75CBE","#FFFFFF","#FFFFFF","#2C2F9E","#FFFFFF"]},"legend":null},
    "stroke":{"field":"s","type":"nominal","scale":{"domain":["RNaseL+RNA+2-5A+ATP","RNaseL+RNA+2-5A+ADP","RNaseL+RNA+2-5A+AMP-PNP","RNaseL+RNA+ATP","RNaseL+RNA+ADP","RNaseL+RNA+AMP-PNP","RNaseL+RNA+2-5A","RNaseL+RNA","RNA alone"],"range":["#000000","#5DB933","#7D2B8B","#7DC6E6","#D75CBE","#C47415","#5A3A1E","#2C2F9E","#C9B800"]},"legend":null}}},
  {"mark":{"type":"point","filled":true,"opacity":0},
   "encoding":{
    "x":{"field":"x","type":"quantitative","axis":{"orient":"top","title":"Nucleotide dependancy","labels":false,"ticks":false,"domain":false,"titleX":74,"titleY":-15,"titleAlign":"center","titleBaseline":"middle","titleFontSize":10.5}},
    "y":{"field":"y","type":"quantitative","axis":{"orient":"right","title":"B","labels":false,"ticks":false,"domain":false,"titleAngle":0,"titleX":-198,"titleY":-20,"titleAlign":"left","titleBaseline":"middle","titleFontSize":14,"titleFontWeight":"bold"}},
    "shape":{"field":"s","type":"nominal","scale":{"domain":["RNaseL+RNA+2-5A+ATP","RNaseL+RNA+2-5A+ADP","RNaseL+RNA+2-5A+AMP-PNP","RNaseL+RNA+ATP","RNaseL+RNA+ADP","RNaseL+RNA+AMP-PNP","RNaseL+RNA+2-5A","RNaseL+RNA","RNA alone"],"range":["M-1.6,0H1.6M0.6,0A0.6,0.6 0 1,1 -0.6,0A0.6,0.6 0 1,1 0.6,0Z","M-1.6,0H1.6M-0.55,-0.55H0.55V0.55H-0.55Z","M-1.6,0H1.6M0,-0.65L0.65,0.45L-0.65,0.45Z","M-1.6,0H1.6M-0.35,-0.6L0.35,0.6M0.35,-0.6L-0.35,0.6","M-1.6,0H1.6M0,-0.6V0.6","M-1.6,0H-0.6M0.6,0H1.6M0.6,0A0.6,0.6 0 1,1 -0.6,0A0.6,0.6 0 1,1 0.6,0Z","M-1.6,0H-0.55M0.55,0H1.6M-0.55,-0.55H0.55V0.55H-0.55Z","M-1.6,0H1.6M0,-0.65L0.65,0.45L-0.65,0.45Z","M-1.6,0H-0.6M0.6,0H1.6M0,0.65L0.65,-0.45L-0.65,-0.45Z"]},"legend":{"orient":"none","legendX":161.2,"legendY":1.3,"title":null,"symbolSize":69,"rowPadding":2.6}},
    "fill":{"field":"s","type":"nominal","scale":{"domain":["RNaseL+RNA+2-5A+ATP","RNaseL+RNA+2-5A+ADP","RNaseL+RNA+2-5A+AMP-PNP","RNaseL+RNA+ATP","RNaseL+RNA+ADP","RNaseL+RNA+AMP-PNP","RNaseL+RNA+2-5A","RNaseL+RNA","RNA alone"],"range":["#000000","#5DB933","#7D2B8B","#7DC6E6","#D75CBE","#FFFFFF","#FFFFFF","#2C2F9E","#FFFFFF"]},"legend":{"orient":"none","legendX":161.2,"legendY":1.3,"title":null,"symbolSize":69,"rowPadding":2.6}},
    "stroke":{"field":"s","type":"nominal","scale":{"domain":["RNaseL+RNA+2-5A+ATP","RNaseL+RNA+2-5A+ADP","RNaseL+RNA+2-5A+AMP-PNP","RNaseL+RNA+ATP","RNaseL+RNA+ADP","RNaseL+RNA+AMP-PNP","RNaseL+RNA+2-5A","RNaseL+RNA","RNA alone"],"range":["#000000","#5DB933","#7D2B8B","#7DC6E6","#D75CBE","#C47415","#5A3A1E","#2C2F9E","#C9B800"]},"legend":{"orient":"none","legendX":161.2,"legendY":1.3,"title":null,"symbolSize":69,"rowPadding":2.6}}}}
 ],
 "resolve":{"scale":{"color":"independent","shape":"independent","fill":"independent","stroke":"independent"},"axis":{"x":"independent","y":"independent"}}
},
{
 "width":190,"height":127,
 "layer":[
  {"data":{"name":"C_fit"},"mark":{"type":"line","strokeWidth":1.3,"interpolate":"monotone"},
   "encoding":{
    "x":{"field":"x","type":"quantitative","scale":{"domain":[0,20],"nice":false},"axis":{"values":[5,10,15,20],"offset":-31.75,"title":"[RNase L] μM","titleY":19,"titleBaseline":"middle"}},
    "y":{"field":"y","type":"quantitative","scale":{"domain":[-50,150],"nice":false,"zero":false},"axis":{"values":[-50,0,50,100,150],"title":"mP, arbitrary units","titleX":-44.5,"titleAngle":270,"titleAlign":"center","titleBaseline":"middle"}},
    "color":{"field":"s","type":"nominal","scale":{"domain":["WT","N487A","D482A","E402A","D500A","K390A","L432A","A388F"],"range":["#000000","#4DAF3C","#D0489E","#2E3192","#6D1F75","#E8861F","#58B7DE","#D02525"]},"legend":null}}},
  {"data":{"name":"C_pts"},"transform":[{"filter":"datum.e > 0"}],"mark":{"type":"errorbar","ticks":{"size":5},"thickness":1},
   "encoding":{"x":{"field":"x","type":"quantitative","axis":null},"y":{"field":"y","type":"quantitative","axis":null},"yError":{"field":"e"},
    "color":{"field":"s","type":"nominal","scale":{"domain":["WT","N487A","D482A","E402A","D500A","K390A","L432A","A388F"],"range":["#000000","#000000","#000000","#000000","#000000","#000000","#000000","#000000"]},"legend":null}}},
  {"data":{"name":"C_pts"},"mark":{"type":"point","filled":true,"size":30,"strokeWidth":1,"opacity":1},
   "encoding":{"x":{"field":"x","type":"quantitative","axis":null},"y":{"field":"y","type":"quantitative","axis":null},
    "shape":{"field":"s","type":"nominal","scale":{"domain":["WT","N487A","D482A","E402A","D500A","K390A","L432A","A388F"],"range":["M1,0A1,1 0 1,1 -1,0A1,1 0 1,1 1,0Z","M-0.9,-0.9H0.9V0.9H-0.9Z","M0,-1.1L1.05,0.75L-1.05,0.75Z","M0,1.1L1.05,-0.75L-1.05,-0.75Z","M0,-1.1L1.1,0L0,1.1L-1.1,0Z","M1,0A1,1 0 1,1 -1,0A1,1 0 1,1 1,0Z","M-0.9,-0.9H0.9V0.9H-0.9Z","M0,-1.1L1.05,0.75L-1.05,0.75Z"]},"legend":null},
    "fill":{"field":"s","type":"nominal","scale":{"domain":["WT","N487A","D482A","E402A","D500A","K390A","L432A","A388F"],"range":["#000000","#000000","#000000","#000000","#000000","#FFFFFF","#FFFFFF","#FFFFFF"]},"legend":null},
    "stroke":{"field":"s","type":"nominal","scale":{"domain":["WT","N487A","D482A","E402A","D500A","K390A","L432A","A388F"],"range":["#000000","#000000","#000000","#000000","#000000","#000000","#000000","#000000"]},"legend":null}}},
  {"data":{"name":"C_note"},"mark":{"type":"text","fontSize":8.5,"font":"Liberation Sans","color":"#000"},
   "encoding":{"x":{"field":"x","type":"quantitative","axis":null},"y":{"field":"y","type":"quantitative","axis":null},"text":{"field":"t"}}},
  {"data":{"name":"C_pts"},"mark":{"type":"point","filled":true,"opacity":0},
   "encoding":{
    "x":{"field":"x","type":"quantitative","axis":{"orient":"top","title":"ATP binding to RNaseL","labels":false,"ticks":false,"domain":false,"titleX":84.5,"titleY":-28.5,"titleAlign":"center","titleBaseline":"middle","titleFontSize":10.5}},
    "y":{"field":"y","type":"quantitative","axis":{"orient":"right","title":"C","labels":false,"ticks":false,"domain":false,"titleAngle":0,"titleX":-248,"titleY":-26.5,"titleAlign":"left","titleBaseline":"middle","titleFontSize":14,"titleFontWeight":"bold"}},
    "shape":{"field":"s","type":"nominal","scale":{"domain":["WT","N487A","D482A","E402A","D500A","K390A","L432A","A388F"],"range":["M-1.6,0H1.6M0.6,0A0.6,0.6 0 1,1 -0.6,0A0.6,0.6 0 1,1 0.6,0Z","M-1.6,0H1.6M-0.55,-0.55H0.55V0.55H-0.55Z","M-1.6,0H1.6M0,-0.65L0.65,0.45L-0.65,0.45Z","M-1.6,0H1.6M0,0.65L0.65,-0.45L-0.65,-0.45Z","M-1.6,0H1.6M0,-0.65L0.65,0L0,0.65L-0.65,0Z","M-1.6,0H-0.6M0.6,0H1.6M0.6,0A0.6,0.6 0 1,1 -0.6,0A0.6,0.6 0 1,1 0.6,0Z","M-1.6,0H-0.55M0.55,0H1.6M-0.55,-0.55H0.55V0.55H-0.55Z","M-1.6,0H-0.6M0.6,0H1.6M0,-0.65L0.65,0.45L-0.65,0.45Z"]},"legend":{"orient":"none","legendX":205.4,"legendY":-4.8,"title":null,"symbolSize":66,"rowPadding":5}},
    "fill":{"field":"s","type":"nominal","scale":{"domain":["WT","N487A","D482A","E402A","D500A","K390A","L432A","A388F"],"range":["#000000","#000000","#000000","#000000","#000000","#FFFFFF","#FFFFFF","#FFFFFF"]},"legend":{"orient":"none","legendX":205.4,"legendY":-4.8,"title":null,"symbolSize":66,"rowPadding":5}},
    "stroke":{"field":"s","type":"nominal","scale":{"domain":["WT","N487A","D482A","E402A","D500A","K390A","L432A","A388F"],"range":["#000000","#4DAF3C","#D0489E","#2E3192","#6D1F75","#E8861F","#58B7DE","#D02525"]},"legend":{"orient":"none","legendX":205.4,"legendY":-4.8,"title":null,"symbolSize":66,"rowPadding":5}}}}
 ],
 "resolve":{"scale":{"color":"independent","shape":"independent","fill":"independent","stroke":"independent"},"axis":{"x":"independent","y":"independent"}}
},
{
 "width":153,"height":102,"data":{"name":"D"},
 "layer":[
  {"mark":{"type":"line","strokeWidth":1.2},
   "encoding":{
    "x":{"field":"x","type":"quantitative","scale":{"domain":[0,30],"nice":false},"axis":{"values":[0,10,20,30],"title":"Time (min)","titleY":19.5,"titleBaseline":"middle"}},
    "y":{"field":"y","type":"quantitative","scale":{"domain":[0,4],"nice":false},"axis":{"values":[0,1,2,3,4],"labelExpr":"datum.value == 0 ? '0' : format(datum.value, '.1f')","title":"Fluorescence Intensity (x10⁶)","titleX":-38,"titleAngle":270,"titleAlign":"center","titleBaseline":"middle"}},
    "color":{"field":"s","type":"nominal","scale":{"domain":["WT+RNA+2-5A+ADP","N487A+RNA+2-5A+ADP","D482A+RNA+2-5A+ADP","E402A+RNA+2-5A+ADP","D500A+RNA+2-5A+ADP","K390A+RNA+2-5A+ADP","L432A+RNA+2-5A+ADP","A388F+RNA+2-5A+ADP","RNA alone"],"range":["#000000","#5DB933","#DB7FC6","#4B4DB2","#8A2A8E","#2A2A2A","#2A2A2A","#3A2418","#000000"]},"legend":null}}},
  {"transform":[{"filter":"datum.e > 0"}],"mark":{"type":"errorbar","ticks":{"size":5},"thickness":1},
   "encoding":{"x":{"field":"x","type":"quantitative","axis":null},"y":{"field":"y","type":"quantitative","axis":null},"yError":{"field":"e"},"color":{"value":"#000000"}}},
  {"mark":{"type":"point","filled":true,"size":16,"strokeWidth":1,"opacity":1},
   "encoding":{"x":{"field":"x","type":"quantitative","axis":null},"y":{"field":"y","type":"quantitative","axis":null},
    "shape":{"field":"s","type":"nominal","scale":{"domain":["WT+RNA+2-5A+ADP","N487A+RNA+2-5A+ADP","D482A+RNA+2-5A+ADP","E402A+RNA+2-5A+ADP","D500A+RNA+2-5A+ADP","K390A+RNA+2-5A+ADP","L432A+RNA+2-5A+ADP","A388F+RNA+2-5A+ADP","RNA alone"],"range":["M1,0A1,1 0 1,1 -1,0A1,1 0 1,1 1,0Z","M-0.9,-0.9H0.9V0.9H-0.9Z","M0,-1.1L1.05,0.75L-1.05,0.75Z","M0,1.1L1.05,-0.75L-1.05,-0.75Z","M-1.1,0H1.1M0,-1.1V1.1","M1,0A1,1 0 1,1 -1,0A1,1 0 1,1 1,0Z","M-0.9,-0.9H0.9V0.9H-0.9Z","M0,-1.1L1.05,0.75L-1.05,0.75Z","M1.4,0A1.4,1.4 0 1,1 -1.4,0A1.4,1.4 0 1,1 1.4,0Z"]},"legend":null},
    "fill":{"field":"s","type":"nominal","scale":{"domain":["WT+RNA+2-5A+ADP","N487A+RNA+2-5A+ADP","D482A+RNA+2-5A+ADP","E402A+RNA+2-5A+ADP","D500A+RNA+2-5A+ADP","K390A+RNA+2-5A+ADP","L432A+RNA+2-5A+ADP","A388F+RNA+2-5A+ADP","RNA alone"],"range":["#000000","#5DB933","#DB7FC6","#4B4DB2","#8A2A8E","#E8902A","#6EC3E6","#3A2418","#000000"]},"legend":null},
    "stroke":{"field":"s","type":"nominal","scale":{"domain":["WT+RNA+2-5A+ADP","N487A+RNA+2-5A+ADP","D482A+RNA+2-5A+ADP","E402A+RNA+2-5A+ADP","D500A+RNA+2-5A+ADP","K390A+RNA+2-5A+ADP","L432A+RNA+2-5A+ADP","A388F+RNA+2-5A+ADP","RNA alone"],"range":["#000000","#5DB933","#DB7FC6","#4B4DB2","#8A2A8E","#2A2A2A","#2A2A2A","#3A2418","#000000"]},"legend":null}}},
  {"mark":{"type":"point","filled":true,"opacity":0},
   "encoding":{
    "x":{"field":"x","type":"quantitative","axis":{"orient":"top","title":"ATP binding site mutants","labels":false,"ticks":false,"domain":false,"titleX":79.3,"titleY":-28.5,"titleAlign":"center","titleBaseline":"middle","titleFontSize":10.5}},
    "y":{"field":"y","type":"quantitative","axis":{"orient":"right","title":"D","labels":false,"ticks":false,"domain":false,"titleAngle":0,"titleX":-199,"titleY":-26.5,"titleAlign":"left","titleBaseline":"middle","titleFontSize":14,"titleFontWeight":"bold"}},
    "shape":{"field":"s","type":"nominal","scale":{"domain":["WT+RNA+2-5A+ADP","N487A+RNA+2-5A+ADP","D482A+RNA+2-5A+ADP","E402A+RNA+2-5A+ADP","D500A+RNA+2-5A+ADP","K390A+RNA+2-5A+ADP","L432A+RNA+2-5A+ADP","A388F+RNA+2-5A+ADP","RNA alone"],"range":["M-1.6,0H1.6M0.5,0A0.5,0.5 0 1,1 -0.5,0A0.5,0.5 0 1,1 0.5,0Z","M-1.6,0H1.6M-0.55,-0.55H0.55V0.55H-0.55Z","M-1.6,0H1.6M0,-0.65L0.65,0.45L-0.65,0.45Z","M-1.6,0H1.6M0,0.65L0.65,-0.45L-0.65,-0.45Z","M-1.6,0H1.6M0,-0.6V0.6","M-1.6,0H-0.6M0.6,0H1.6M0.6,0A0.6,0.6 0 1,1 -0.6,0A0.6,0.6 0 1,1 0.6,0Z","M-1.6,0H-0.55M0.55,0H1.6M-0.55,-0.55H0.55V0.55H-0.55Z","M-1.6,0H1.6M0,-0.65L0.65,0.45L-0.65,0.45Z","M-1.6,0H1.6M0.75,0A0.75,0.75 0 1,1 -0.75,0A0.75,0.75 0 1,1 0.75,0Z"]},"legend":{"orient":"none","legendX":170.7,"legendY":-3,"title":null,"symbolSize":80,"rowPadding":1.2}},
    "fill":{"field":"s","type":"nominal","scale":{"domain":["WT+RNA+2-5A+ADP","N487A+RNA+2-5A+ADP","D482A+RNA+2-5A+ADP","E402A+RNA+2-5A+ADP","D500A+RNA+2-5A+ADP","K390A+RNA+2-5A+ADP","L432A+RNA+2-5A+ADP","A388F+RNA+2-5A+ADP","RNA alone"],"range":["#000000","#5DB933","#DB7FC6","#4B4DB2","#8A2A8E","#E8902A","#6EC3E6","#3A2418","#000000"]},"legend":{"orient":"none","legendX":170.7,"legendY":-3,"title":null,"symbolSize":80,"rowPadding":1.2}},
    "stroke":{"field":"s","type":"nominal","scale":{"domain":["WT+RNA+2-5A+ADP","N487A+RNA+2-5A+ADP","D482A+RNA+2-5A+ADP","E402A+RNA+2-5A+ADP","D500A+RNA+2-5A+ADP","K390A+RNA+2-5A+ADP","L432A+RNA+2-5A+ADP","A388F+RNA+2-5A+ADP","RNA alone"],"range":["#000000","#5DB933","#DB7FC6","#4B4DB2","#8A2A8E","#2A2A2A","#2A2A2A","#3A2418","#000000"]},"legend":{"orient":"none","legendX":170.7,"legendY":-3,"title":null,"symbolSize":80,"rowPadding":1.2}}}}
 ],
 "resolve":{"scale":{"color":"independent","shape":"independent","fill":"independent","stroke":"independent"},"axis":{"x":"independent","y":"independent"}}
},
{
 "width":149,"height":100,"data":{"name":"E"},
 "layer":[
  {"mark":{"type":"line","strokeWidth":1.2},
   "encoding":{
    "x":{"field":"x","type":"quantitative","scale":{"domain":[0,30],"nice":false},"axis":{"values":[0,10,20,30],"title":"Time (min)","titleY":24,"titleBaseline":"middle"}},
    "y":{"field":"y","type":"quantitative","scale":{"domain":[0,4],"nice":false},"axis":{"values":[0,1,2,3,4],"labelExpr":"datum.value == 0 ? '0' : format(datum.value, '.1f')","title":"Fluorescence Intensity (x10⁶)","titleX":-36,"titleAngle":270,"titleAlign":"center","titleBaseline":"middle"}},
    "color":{"field":"s","type":"nominal","scale":{"domain":["WT+RNA+2-5A+ADP","R410E+RNA+2-5A+ADP","R675E+RNA+2-5A+ADP","E679R+RNA+2-5A+ADP","R675E-E679R+RNA+2-5A+ADP","RNA alone"],"range":["#000000","#5DB933","#8A2A8E","#3F41AE","#E8902A","#2A1A1A"]},"legend":null}}},
  {"transform":[{"filter":"datum.e > 0"}],"mark":{"type":"errorbar","ticks":{"size":5},"thickness":1},
   "encoding":{"x":{"field":"x","type":"quantitative","axis":null},"y":{"field":"y","type":"quantitative","axis":null},"yError":{"field":"e"},"color":{"value":"#000000"}}},
  {"mark":{"type":"point","filled":true,"size":16,"strokeWidth":1,"opacity":1},
   "encoding":{"x":{"field":"x","type":"quantitative","axis":null},"y":{"field":"y","type":"quantitative","axis":null},
    "shape":{"field":"s","type":"nominal","scale":{"domain":["WT+RNA+2-5A+ADP","R410E+RNA+2-5A+ADP","R675E+RNA+2-5A+ADP","E679R+RNA+2-5A+ADP","R675E-E679R+RNA+2-5A+ADP","RNA alone"],"range":["M1,0A1,1 0 1,1 -1,0A1,1 0 1,1 1,0Z","M-0.9,-0.9H0.9V0.9H-0.9Z","M0,-1.1L1.05,0.75L-1.05,0.75Z","M0,1.1L1.05,-0.75L-1.05,-0.75Z","M-1.1,0H1.1M0,-1.1V1.1","M1.3,0A1.3,1.3 0 1,1 -1.3,0A1.3,1.3 0 1,1 1.3,0Z"]},"legend":null},
    "fill":{"field":"s","type":"nominal","scale":{"domain":["WT+RNA+2-5A+ADP","R410E+RNA+2-5A+ADP","R675E+RNA+2-5A+ADP","E679R+RNA+2-5A+ADP","R675E-E679R+RNA+2-5A+ADP","RNA alone"],"range":["#000000","#5DB933","#8A2A8E","#3F41AE","#E8902A","#D0302A"]},"legend":null},
    "stroke":{"field":"s","type":"nominal","scale":{"domain":["WT+RNA+2-5A+ADP","R410E+RNA+2-5A+ADP","R675E+RNA+2-5A+ADP","E679R+RNA+2-5A+ADP","R675E-E679R+RNA+2-5A+ADP","RNA alone"],"range":["#000000","#5DB933","#8A2A8E","#3F41AE","#E8902A","#2A1A1A"]},"legend":null}}},
  {"mark":{"type":"point","filled":true,"opacity":0},
   "encoding":{
    "x":{"field":"x","type":"quantitative","axis":{"orient":"top","title":["Kinase-Kinase and RNase-RNase","contact surface mutants"],"labels":false,"ticks":false,"domain":false,"titleX":79.5,"titleY":-26,"titleAlign":"center","titleBaseline":"middle","titleFontSize":10.5,"titleLineHeight":12.5}},
    "y":{"field":"y","type":"quantitative","axis":{"orient":"right","title":"E","labels":false,"ticks":false,"domain":false,"titleAngle":0,"titleX":-205,"titleY":-32,"titleAlign":"left","titleBaseline":"middle","titleFontSize":14,"titleFontWeight":"bold"}},
    "shape":{"field":"s","type":"nominal","scale":{"domain":["WT+RNA+2-5A+ADP","R410E+RNA+2-5A+ADP","R675E+RNA+2-5A+ADP","E679R+RNA+2-5A+ADP","R675E-E679R+RNA+2-5A+ADP","RNA alone"],"range":["M-1.6,0H1.6M0.5,0A0.5,0.5 0 1,1 -0.5,0A0.5,0.5 0 1,1 0.5,0Z","M-1.6,0H1.6M-0.55,-0.55H0.55V0.55H-0.55Z","M-1.6,0H1.6M0,-0.65L0.65,0.45L-0.65,0.45Z","M-1.6,0H1.6M0,0.65L0.65,-0.45L-0.65,-0.45Z","M-1.6,0H1.6M0,-0.6V0.6","M-1.6,0H-0.7M0.7,0H1.6M0.7,0A0.7,0.7 0 1,1 -0.7,0A0.7,0.7 0 1,1 0.7,0Z"]},"legend":{"orient":"none","legendX":154.4,"legendY":15.7,"title":null,"symbolSize":63,"rowPadding":2.1}},
    "fill":{"field":"s","type":"nominal","scale":{"domain":["WT+RNA+2-5A+ADP","R410E+RNA+2-5A+ADP","R675E+RNA+2-5A+ADP","E679R+RNA+2-5A+ADP","R675E-E679R+RNA+2-5A+ADP","RNA alone"],"range":["#000000","#5DB933","#8A2A8E","#3F41AE","#E8902A","#D0302A"]},"legend":{"orient":"none","legendX":154.4,"legendY":15.7,"title":null,"symbolSize":63,"rowPadding":2.1}},
    "stroke":{"field":"s","type":"nominal","scale":{"domain":["WT+RNA+2-5A+ADP","R410E+RNA+2-5A+ADP","R675E+RNA+2-5A+ADP","E679R+RNA+2-5A+ADP","R675E-E679R+RNA+2-5A+ADP","RNA alone"],"range":["#000000","#5DB933","#8A2A8E","#3F41AE","#E8902A","#2A1A1A"]},"legend":{"orient":"none","legendX":154.4,"legendY":15.7,"title":null,"symbolSize":63,"rowPadding":2.1}}}}
 ],
 "resolve":{"scale":{"color":"independent","shape":"independent","fill":"independent","stroke":"independent"},"axis":{"x":"independent","y":"independent"}}
},
{
 "width":155,"height":102,"data":{"name":"F"},
 "layer":[
  {"mark":{"type":"line","strokeWidth":1.2},
   "encoding":{
    "x":{"field":"x","type":"quantitative","scale":{"domain":[0,30],"nice":false},"axis":{"values":[0,10,20,30],"title":"Time (min)","titleY":23,"titleBaseline":"middle"}},
    "y":{"field":"y","type":"quantitative","scale":{"domain":[0,4],"nice":false},"axis":{"values":[0,1,2,3,4],"labelExpr":"datum.value == 0 ? '0' : format(datum.value, '.1f')","title":"Fluorescence Intensity (x10⁶)","titleX":-37,"titleAngle":270,"titleAlign":"center","titleBaseline":"middle"}},
    "color":{"field":"s","type":"nominal","scale":{"domain":["WT+RNA+2-5A+ADP","H680A+RNA+2-5A+ADP","RNA alone"],"range":["#000000","#5DB933","#D42A2A"]},"legend":null}}},
  {"transform":[{"filter":"datum.e > 0"}],"mark":{"type":"errorbar","ticks":{"size":5},"thickness":1},
   "encoding":{"x":{"field":"x","type":"quantitative","axis":null},"y":{"field":"y","type":"quantitative","axis":null},"yError":{"field":"e"},"color":{"value":"#000000"}}},
  {"mark":{"type":"point","filled":true,"size":16,"strokeWidth":1,"opacity":1},
   "encoding":{"x":{"field":"x","type":"quantitative","axis":null},"y":{"field":"y","type":"quantitative","axis":null},
    "shape":{"field":"s","type":"nominal","scale":{"domain":["WT+RNA+2-5A+ADP","H680A+RNA+2-5A+ADP","RNA alone"],"range":["M1,0A1,1 0 1,1 -1,0A1,1 0 1,1 1,0Z","M-0.9,-0.9H0.9V0.9H-0.9Z","M0,-1.1L1.05,0.75L-1.05,0.75Z"]},"legend":null},
    "fill":{"field":"s","type":"nominal","scale":{"domain":["WT+RNA+2-5A+ADP","H680A+RNA+2-5A+ADP","RNA alone"],"range":["#000000","#5DB933","#D42A2A"]},"legend":null},
    "stroke":{"field":"s","type":"nominal","scale":{"domain":["WT+RNA+2-5A+ADP","H680A+RNA+2-5A+ADP","RNA alone"],"range":["#000000","#5DB933","#D42A2A"]},"legend":null}}},
  {"mark":{"type":"point","filled":true,"opacity":0},
   "encoding":{
    "x":{"field":"x","type":"quantitative","axis":{"orient":"top","title":["RNase","active site mutant"],"labels":false,"ticks":false,"domain":false,"titleX":72.3,"titleY":-25.5,"titleAlign":"center","titleBaseline":"middle","titleFontSize":10.5,"titleLineHeight":12.5}},
    "y":{"field":"y","type":"quantitative","axis":{"orient":"right","title":"F","labels":false,"ticks":false,"domain":false,"titleAngle":0,"titleX":-201,"titleY":-32,"titleAlign":"left","titleBaseline":"middle","titleFontSize":14,"titleFontWeight":"bold"}},
    "shape":{"field":"s","type":"nominal","scale":{"domain":["WT+RNA+2-5A+ADP","H680A+RNA+2-5A+ADP","RNA alone"],"range":["M-1.6,0H1.6M0.5,0A0.5,0.5 0 1,1 -0.5,0A0.5,0.5 0 1,1 0.5,0Z","M-1.6,0H1.6M-0.55,-0.55H0.55V0.55H-0.55Z","M-1.6,0H1.6M0,-0.65L0.65,0.45L-0.65,0.45Z"]},"legend":{"orient":"none","legendX":160.1,"legendY":12.8,"title":null,"symbolSize":50,"rowPadding":-1}},
    "fill":{"field":"s","type":"nominal","scale":{"domain":["WT+RNA+2-5A+ADP","H680A+RNA+2-5A+ADP","RNA alone"],"range":["#000000","#5DB933","#D42A2A"]},"legend":{"orient":"none","legendX":160.1,"legendY":12.8,"title":null,"symbolSize":50,"rowPadding":-1}},
    "stroke":{"field":"s","type":"nominal","scale":{"domain":["WT+RNA+2-5A+ADP","H680A+RNA+2-5A+ADP","RNA alone"],"range":["#000000","#5DB933","#D42A2A"]},"legend":{"orient":"none","legendX":160.1,"legendY":12.8,"title":null,"symbolSize":50,"rowPadding":-1}}}}
 ],
 "resolve":{"scale":{"color":"independent","shape":"independent","fill":"independent","stroke":"independent"},"axis":{"x":"independent","y":"independent"}}
},
{
 "width":144,"height":96,"data":{"name":"G"},
 "layer":[
  {"mark":{"type":"line","strokeWidth":1.2},
   "encoding":{
    "x":{"field":"x","type":"quantitative","scale":{"domain":[0,30],"nice":false},"axis":{"values":[0,10,20,30],"title":"Time (min)","titleY":21,"titleBaseline":"middle"}},
    "y":{"field":"y","type":"quantitative","scale":{"domain":[0,2.5],"nice":false},"axis":{"values":[0,0.5,1,1.5,2,2.5],"labelExpr":"datum.value == 0 ? '0' : format(datum.value, '.1f')","title":"Fluorescence Intensity (x10⁶)","titleX":-35,"titleAngle":270,"titleAlign":"center","titleBaseline":"middle"}},
    "color":{"field":"s","type":"nominal","scale":{"domain":["WT+RNA+2-5A+ADP","D158K+RNA+2-5A+ADP","K368D+RNA+2-5A+ADP","D158K-K368D+RNA+2-5A+ADP","W352A+RNA+2-5A+ADP","R308A+RNA+2-5A+ADP","Δ156-166 + RNA+2-5A+ADP","RNA alone"],"range":["#000000","#5DB933","#E07ACB","#3B3DB0","#7A1F80","#2A2A2A","#2A2A2A","#2A1A1A"]},"legend":null}}},
  {"mark":{"type":"point","filled":true,"size":14,"strokeWidth":1,"opacity":1},
   "encoding":{"x":{"field":"x","type":"quantitative","axis":null},"y":{"field":"y","type":"quantitative","axis":null},
    "shape":{"field":"s","type":"nominal","scale":{"domain":["WT+RNA+2-5A+ADP","D158K+RNA+2-5A+ADP","K368D+RNA+2-5A+ADP","D158K-K368D+RNA+2-5A+ADP","W352A+RNA+2-5A+ADP","R308A+RNA+2-5A+ADP","Δ156-166 + RNA+2-5A+ADP","RNA alone"],"range":["M1,0A1,1 0 1,1 -1,0A1,1 0 1,1 1,0Z","M-0.9,-0.9H0.9V0.9H-0.9Z","M0,-1.1L1.05,0.75L-1.05,0.75Z","M-1.1,0H1.1M-0.55,-0.95L0.55,0.95M0.55,-0.95L-0.55,0.95","M-1.1,0H1.1M0,-1.1V1.1","M1.2,0A1.2,1.2 0 1,1 -1.2,0A1.2,1.2 0 1,1 1.2,0Z","M-1,-1H1V1H-1Z","M1.2,0A1.2,1.2 0 1,1 -1.2,0A1.2,1.2 0 1,1 1.2,0Z"]},"legend":null},
    "fill":{"field":"s","type":"nominal","scale":{"domain":["WT+RNA+2-5A+ADP","D158K+RNA+2-5A+ADP","K368D+RNA+2-5A+ADP","D158K-K368D+RNA+2-5A+ADP","W352A+RNA+2-5A+ADP","R308A+RNA+2-5A+ADP","Δ156-166 + RNA+2-5A+ADP","RNA alone"],"range":["#000000","#5DB933","#E07ACB","#3B3DB0","#7A1F80","#E8902A","#6EC3E6","#8B3A2E"]},"legend":null},
    "stroke":{"field":"s","type":"nominal","scale":{"domain":["WT+RNA+2-5A+ADP","D158K+RNA+2-5A+ADP","K368D+RNA+2-5A+ADP","D158K-K368D+RNA+2-5A+ADP","W352A+RNA+2-5A+ADP","R308A+RNA+2-5A+ADP","Δ156-166 + RNA+2-5A+ADP","RNA alone"],"range":["#000000","#5DB933","#E07ACB","#3B3DB0","#7A1F80","#2A2A2A","#2A2A2A","#2A1A1A"]},"legend":null}}},
  {"mark":{"type":"point","filled":true,"opacity":0},
   "encoding":{
    "x":{"field":"x","type":"quantitative","axis":{"orient":"top","title":["ANK-Kinase","contact surface mutants"],"labels":false,"ticks":false,"domain":false,"titleX":72.8,"titleY":-30.5,"titleAlign":"center","titleBaseline":"middle","titleFontSize":10.5,"titleLineHeight":12.5}},
    "y":{"field":"y","type":"quantitative","axis":{"orient":"right","title":"G","labels":false,"ticks":false,"domain":false,"titleAngle":0,"titleX":-200,"titleY":-30.5,"titleAlign":"left","titleBaseline":"middle","titleFontSize":14,"titleFontWeight":"bold"}},
    "shape":{"field":"s","type":"nominal","scale":{"domain":["WT+RNA+2-5A+ADP","D158K+RNA+2-5A+ADP","K368D+RNA+2-5A+ADP","D158K-K368D+RNA+2-5A+ADP","W352A+RNA+2-5A+ADP","R308A+RNA+2-5A+ADP","Δ156-166 + RNA+2-5A+ADP","RNA alone"],"range":["M-1.6,0H1.6M0.5,0A0.5,0.5 0 1,1 -0.5,0A0.5,0.5 0 1,1 0.5,0Z","M-1.6,0H1.6M-0.5,-0.5H0.5V0.5H-0.5Z","M-1.6,0H1.6M0,-0.65L0.65,0.45L-0.65,0.45Z","M-1.6,0H1.6M-0.35,-0.6L0.35,0.6M0.35,-0.6L-0.35,0.6","M-1.6,0H1.6M0,-0.6V0.6","M-1.6,0H-0.65M0.65,0H1.6M0.65,0A0.65,0.65 0 1,1 -0.65,0A0.65,0.65 0 1,1 0.65,0Z","M-1.6,0H-0.6M0.6,0H1.6M-0.6,-0.6H0.6V0.6H-0.6Z","M-1.6,0H-0.65M0.65,0H1.6M0.65,0A0.65,0.65 0 1,1 -0.65,0A0.65,0.65 0 1,1 0.65,0Z"]},"legend":{"orient":"none","legendX":154.4,"legendY":10.8,"title":null,"symbolSize":63,"rowPadding":0.3}},
    "fill":{"field":"s","type":"nominal","scale":{"domain":["WT+RNA+2-5A+ADP","D158K+RNA+2-5A+ADP","K368D+RNA+2-5A+ADP","D158K-K368D+RNA+2-5A+ADP","W352A+RNA+2-5A+ADP","R308A+RNA+2-5A+ADP","Δ156-166 + RNA+2-5A+ADP","RNA alone"],"range":["#000000","#5DB933","#E07ACB","#3B3DB0","#7A1F80","#E8902A","#6EC3E6","#8B3A2E"]},"legend":{"orient":"none","legendX":154.4,"legendY":10.8,"title":null,"symbolSize":63,"rowPadding":0.3}},
    "stroke":{"field":"s","type":"nominal","scale":{"domain":["WT+RNA+2-5A+ADP","D158K+RNA+2-5A+ADP","K368D+RNA+2-5A+ADP","D158K-K368D+RNA+2-5A+ADP","W352A+RNA+2-5A+ADP","R308A+RNA+2-5A+ADP","Δ156-166 + RNA+2-5A+ADP","RNA alone"],"range":["#000000","#5DB933","#E07ACB","#3B3DB0","#7A1F80","#2A2A2A","#2A2A2A","#2A1A1A"]},"legend":{"orient":"none","legendX":154.4,"legendY":10.8,"title":null,"symbolSize":63,"rowPadding":0.3}}}}
 ],
 "resolve":{"scale":{"color":"independent","shape":"independent","fill":"independent","stroke":"independent"},"axis":{"x":"independent","y":"independent"}}
},
{
 "width":150,"height":101,"data":{"name":"H"},
 "layer":[
  {"mark":{"type":"line","strokeWidth":1.2},
   "encoding":{
    "x":{"field":"x","type":"quantitative","scale":{"domain":[0,30],"nice":false},"axis":{"values":[0,10,20,30],"title":"Time (min)","titleY":17,"titleBaseline":"middle"}},
    "y":{"field":"y","type":"quantitative","scale":{"domain":[0,4],"nice":false},"axis":{"values":[0,1,2,3,4],"labelExpr":"datum.value == 0 ? '0' : format(datum.value, '.1f')","title":"Fluorescence Intensity (x10⁶)","titleX":-37,"titleAngle":270,"titleAlign":"center","titleBaseline":"middle"}},
    "color":{"field":"s","type":"nominal","scale":{"domain":["WT+RNA+2-5A+ADP","R353E+RNA+2-5A+ADP","Y310A+RNA+2-5A+ADP","K164E+RNA+2-5A+ADP","RNA alone"],"range":["#000000","#5DB933","#8A2A8E","#3F41AE","#D42A2A"]},"legend":null}}},
  {"transform":[{"filter":"datum.e > 0"}],"mark":{"type":"errorbar","ticks":{"size":5},"thickness":1},
   "encoding":{"x":{"field":"x","type":"quantitative","axis":null},"y":{"field":"y","type":"quantitative","axis":null},"yError":{"field":"e"},"color":{"value":"#000000"}}},
  {"mark":{"type":"point","filled":true,"size":16,"strokeWidth":1,"opacity":1},
   "encoding":{"x":{"field":"x","type":"quantitative","axis":null},"y":{"field":"y","type":"quantitative","axis":null},
    "shape":{"field":"s","type":"nominal","scale":{"domain":["WT+RNA+2-5A+ADP","R353E+RNA+2-5A+ADP","Y310A+RNA+2-5A+ADP","K164E+RNA+2-5A+ADP","RNA alone"],"range":["M1,0A1,1 0 1,1 -1,0A1,1 0 1,1 1,0Z","M-0.9,-0.9H0.9V0.9H-0.9Z","M0,-1.1L1.05,0.75L-1.05,0.75Z","M0,1.1L1.05,-0.75L-1.05,-0.75Z","M0,-1.1L1.05,0.75L-1.05,0.75Z"]},"legend":null},
    "fill":{"field":"s","type":"nominal","scale":{"domain":["WT+RNA+2-5A+ADP","R353E+RNA+2-5A+ADP","Y310A+RNA+2-5A+ADP","K164E+RNA+2-5A+ADP","RNA alone"],"range":["#000000","#5DB933","#8A2A8E","#3F41AE","#D42A2A"]},"legend":null},
    "stroke":{"field":"s","type":"nominal","scale":{"domain":["WT+RNA+2-5A+ADP","R353E+RNA+2-5A+ADP","Y310A+RNA+2-5A+ADP","K164E+RNA+2-5A+ADP","RNA alone"],"range":["#000000","#5DB933","#8A2A8E","#3F41AE","#D42A2A"]},"legend":null}}},
  {"mark":{"type":"point","filled":true,"opacity":0},
   "encoding":{
    "x":{"field":"x","type":"quantitative","axis":{"orient":"top","title":["2-5A-ANK and 2-5A-Kinase","contact surface mutants"],"labels":false,"ticks":false,"domain":false,"titleX":79.8,"titleY":-31,"titleAlign":"center","titleBaseline":"middle","titleFontSize":10.5,"titleLineHeight":12.5}},
    "y":{"field":"y","type":"quantitative","axis":{"orient":"right","title":"H","labels":false,"ticks":false,"domain":false,"titleAngle":0,"titleX":-196,"titleY":-30.5,"titleAlign":"left","titleBaseline":"middle","titleFontSize":14,"titleFontWeight":"bold"}},
    "shape":{"field":"s","type":"nominal","scale":{"domain":["WT+RNA+2-5A+ADP","R353E+RNA+2-5A+ADP","Y310A+RNA+2-5A+ADP","K164E+RNA+2-5A+ADP","RNA alone"],"range":["M-1.6,0H1.6M0.5,0A0.5,0.5 0 1,1 -0.5,0A0.5,0.5 0 1,1 0.5,0Z","M-1.6,0H1.6M-0.55,-0.55H0.55V0.55H-0.55Z","M-1.6,0H1.6M0,-0.65L0.65,0.45L-0.65,0.45Z","M-1.6,0H1.6M0,0.65L0.65,-0.45L-0.65,-0.45Z","M-1.6,0H1.6M0,-0.65L0.65,0.45L-0.65,0.45Z"]},"legend":{"orient":"none","legendX":156.2,"legendY":8,"title":null,"symbolSize":55,"rowPadding":0.7}},
    "fill":{"field":"s","type":"nominal","scale":{"domain":["WT+RNA+2-5A+ADP","R353E+RNA+2-5A+ADP","Y310A+RNA+2-5A+ADP","K164E+RNA+2-5A+ADP","RNA alone"],"range":["#000000","#5DB933","#8A2A8E","#3F41AE","#D42A2A"]},"legend":{"orient":"none","legendX":156.2,"legendY":8,"title":null,"symbolSize":55,"rowPadding":0.7}},
    "stroke":{"field":"s","type":"nominal","scale":{"domain":["WT+RNA+2-5A+ADP","R353E+RNA+2-5A+ADP","Y310A+RNA+2-5A+ADP","K164E+RNA+2-5A+ADP","RNA alone"],"range":["#000000","#5DB933","#8A2A8E","#3F41AE","#D42A2A"]},"legend":{"orient":"none","legendX":156.2,"legendY":8,"title":null,"symbolSize":55,"rowPadding":0.7}}}}
 ],
 "resolve":{"scale":{"color":"independent","shape":"independent","fill":"independent","stroke":"independent"},"axis":{"x":"independent","y":"independent"}}
}
]
}
